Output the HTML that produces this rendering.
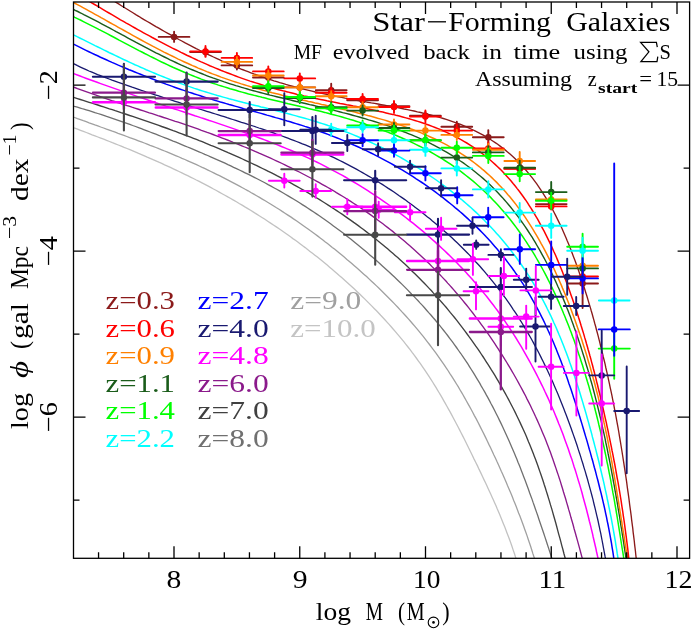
<!DOCTYPE html><html><head><meta charset="utf-8"><style>html,body{margin:0;padding:0;background:#fff}svg{display:block;will-change:transform;transform:translateZ(0)}text{font-family:"Liberation Serif",serif}</style></head><body>
<svg width="692" height="631" viewBox="0 0 692 631">
<rect width="692" height="631" fill="#fff"/>
<defs><clipPath id="c"><rect x="73.5" y="2.0" width="616.1" height="556.3"/></clipPath></defs>
<g clip-path="url(#c)" fill="none">
<path d="M60.3,122.5 L63.2,123.6 L66.1,124.7 L68.9,125.9 L71.8,127.0 L74.7,128.1 L77.6,129.2 L80.5,130.3 L83.4,131.4 L86.3,132.5 L89.2,133.6 L92.1,134.8 L95.0,135.9 L97.9,137.0 L100.8,138.1 L103.7,139.2 L106.6,140.4 L109.5,141.5 L112.4,142.7 L115.4,143.8 L118.3,145.0 L121.2,146.2 L124.1,147.4 L127.0,148.5 L129.9,149.7 L132.8,150.9 L135.7,152.1 L138.6,153.4 L141.5,154.6 L144.4,155.8 L147.2,157.1 L150.1,158.3 L153.0,159.6 L155.9,160.9 L158.8,162.2 L161.7,163.4 L164.6,164.8 L167.5,166.1 L170.4,167.4 L173.3,168.8 L176.1,170.1 L179.0,171.5 L181.9,172.9 L184.8,174.3 L187.7,175.7 L190.5,177.1 L193.4,178.5 L196.3,180.0 L199.2,181.4 L202.0,182.9 L204.9,184.4 L207.8,185.9 L210.6,187.4 L213.5,189.0 L216.4,190.5 L219.2,192.1 L222.1,193.7 L224.9,195.2 L227.8,196.9 L230.7,198.5 L233.5,200.1 L236.4,201.8 L239.2,203.5 L242.1,205.1 L244.9,206.9 L247.8,208.6 L250.6,210.3 L253.5,212.1 L256.3,213.9 L259.2,215.7 L262.0,217.5 L264.9,219.3 L267.7,221.2 L270.6,223.1 L273.4,225.0 L276.3,226.9 L279.1,228.8 L282.0,230.8 L284.8,232.8 L287.7,234.8 L290.5,236.8 L292.9,238.6 L295.4,240.3 L297.8,242.1 L300.3,243.9 L302.7,245.8 L305.2,247.6 L307.6,249.5 L310.0,251.4 L312.5,253.3 L314.9,255.2 L317.4,257.1 L319.8,259.1 L322.3,261.1 L324.7,263.1 L327.2,265.1 L329.6,267.2 L332.1,269.3 L334.6,271.4 L337.0,273.5 L339.5,275.7 L342.0,277.8 L344.4,280.0 L346.9,282.3 L349.4,284.5 L351.9,286.8 L354.4,289.1 L356.9,291.4 L359.4,293.8 L361.9,296.2 L364.4,298.6 L366.9,301.1 L369.4,303.6 L371.9,306.1 L374.4,308.7 L376.5,310.8 L378.6,313.0 L380.7,315.3 L382.8,317.5 L384.9,319.8 L387.0,322.1 L389.1,324.4 L391.2,326.8 L393.3,329.2 L395.4,331.6 L397.5,334.1 L399.6,336.6 L401.7,339.1 L403.8,341.7 L405.9,344.3 L408.0,347.0 L410.1,349.7 L412.1,352.4 L414.2,355.1 L416.3,358.0 L418.3,360.8 L420.4,363.7 L422.4,366.6 L424.5,369.6 L426.5,372.7 L428.5,375.7 L430.6,378.8 L432.6,382.0 L434.2,384.6 L435.8,387.2 L437.4,389.8 L439.0,392.5 L440.6,395.2 L442.2,397.9 L443.7,400.6 L445.3,403.4 L446.9,406.2 L448.5,409.1 L450.1,411.9 L451.7,414.9 L453.2,417.8 L454.8,420.8 L456.4,423.8 L458.0,426.8 L459.6,429.9 L461.2,433.0 L462.8,436.1 L464.4,439.3 L466.0,442.5 L467.6,445.7 L469.2,449.0 L470.8,452.3 L472.5,455.7 L474.1,459.1 L475.8,462.5 L477.5,465.9 L479.1,469.4 L480.8,472.9 L482.5,476.5 L484.2,480.1 L485.5,482.8 L486.8,485.6 L488.1,488.4 L489.4,491.2 L490.7,494.0 L492.0,496.9 L493.3,499.7 L494.6,502.7 L495.9,505.6 L497.1,508.6 L498.4,511.6 L499.7,514.6 L501.0,517.7 L502.2,520.7 L503.5,523.9 L504.8,527.0 L506.0,530.2 L507.2,533.4 L508.5,536.7 L509.7,540.0 L510.9,543.3 L512.1,546.7 L513.2,550.1 L514.4,553.5 L515.5,557.0 L516.7,560.5 L517.9,564.0 L519.1,567.5 L520.4,571.1 L521.6,574.7 L522.8,578.3 L523.3,579.6" stroke="#c2c2c2" stroke-width="1.3"/>
<path d="M60.3,112.2 L63.1,113.3 L66.0,114.3 L68.9,115.4 L71.8,116.4 L74.6,117.5 L77.5,118.6 L80.4,119.6 L83.3,120.7 L86.2,121.7 L89.1,122.8 L92.0,123.8 L94.9,124.9 L97.8,125.9 L100.7,127.0 L103.6,128.0 L106.5,129.1 L109.4,130.1 L112.3,131.2 L115.2,132.2 L118.1,133.3 L121.0,134.3 L123.9,135.4 L126.8,136.5 L129.7,137.6 L132.6,138.6 L135.5,139.7 L138.4,140.8 L141.4,141.9 L144.3,143.0 L147.2,144.1 L150.1,145.3 L153.0,146.4 L155.9,147.5 L158.8,148.7 L161.7,149.8 L164.6,151.0 L167.5,152.2 L170.4,153.4 L173.3,154.6 L176.2,155.8 L179.1,157.0 L182.0,158.3 L184.9,159.5 L187.8,160.8 L190.7,162.1 L193.6,163.4 L196.5,164.7 L199.3,166.0 L202.2,167.4 L205.1,168.7 L208.0,170.1 L210.9,171.5 L213.7,172.9 L216.6,174.3 L219.5,175.7 L222.3,177.1 L225.2,178.6 L228.1,180.1 L230.9,181.6 L233.8,183.1 L236.7,184.6 L239.5,186.1 L242.4,187.7 L245.2,189.3 L248.1,190.8 L250.9,192.5 L253.8,194.1 L256.6,195.7 L259.5,197.4 L262.3,199.1 L265.2,200.8 L268.0,202.5 L270.9,204.2 L273.7,206.0 L276.5,207.8 L279.4,209.5 L282.2,211.4 L285.0,213.2 L287.9,215.1 L290.7,216.9 L293.5,218.9 L296.4,220.8 L299.2,222.7 L302.0,224.7 L304.8,226.7 L307.7,228.7 L310.5,230.8 L312.9,232.5 L315.3,234.3 L317.8,236.1 L320.2,237.9 L322.6,239.8 L325.0,241.7 L327.5,243.5 L329.9,245.4 L332.3,247.4 L334.8,249.3 L337.2,251.3 L339.6,253.3 L342.1,255.3 L344.5,257.3 L346.9,259.4 L349.4,261.4 L351.8,263.5 L354.3,265.7 L356.7,267.8 L359.2,270.0 L361.6,272.2 L364.1,274.4 L366.6,276.6 L369.0,278.9 L371.5,281.2 L374.0,283.5 L376.5,285.9 L379.0,288.3 L381.5,290.7 L384.0,293.2 L386.5,295.7 L389.0,298.2 L391.5,300.8 L393.6,302.9 L395.7,305.1 L397.8,307.3 L399.9,309.6 L402.0,311.9 L404.2,314.2 L406.3,316.5 L408.4,318.9 L410.5,321.3 L412.6,323.7 L414.7,326.2 L416.8,328.7 L418.9,331.2 L421.1,333.8 L423.2,336.4 L425.3,339.1 L427.4,341.8 L429.5,344.5 L431.6,347.3 L433.7,350.1 L435.8,352.9 L437.9,355.8 L440.0,358.8 L442.1,361.8 L444.2,364.8 L446.2,367.9 L448.3,371.0 L449.9,373.6 L451.6,376.1 L453.2,378.7 L454.9,381.4 L456.5,384.0 L458.2,386.7 L459.8,389.5 L461.4,392.2 L463.1,395.0 L464.7,397.9 L466.3,400.7 L467.9,403.6 L469.6,406.6 L471.2,409.5 L472.8,412.5 L474.4,415.6 L476.1,418.6 L477.7,421.8 L479.3,424.9 L480.9,428.1 L482.5,431.3 L484.2,434.6 L485.8,437.9 L487.4,441.2 L489.0,444.6 L490.7,448.0 L492.3,451.5 L493.9,455.0 L495.6,458.5 L497.2,462.1 L498.9,465.7 L500.1,468.4 L501.3,471.2 L502.6,474.0 L503.8,476.8 L505.1,479.7 L506.3,482.6 L507.5,485.5 L508.8,488.4 L510.0,491.3 L511.3,494.3 L512.5,497.3 L513.7,500.4 L515.0,503.5 L516.2,506.6 L517.4,509.7 L518.6,512.9 L519.9,516.1 L521.1,519.3 L522.3,522.5 L523.5,525.8 L524.7,529.2 L525.9,532.5 L527.1,535.9 L528.2,539.3 L529.4,542.8 L530.6,546.3 L531.7,549.8 L532.8,553.4 L534.0,557.0 L535.2,560.6 L536.4,564.3 L537.6,568.0 L538.9,571.7 L540.1,575.4 L541.3,579.2" stroke="#a0a0a0" stroke-width="1.3"/>
<path d="M60.0,101.3 L62.9,102.3 L65.8,103.4 L68.6,104.4 L71.5,105.4 L74.4,106.4 L77.4,107.2 L80.3,108.1 L83.2,109.0 L86.2,109.8 L89.1,110.7 L92.0,111.6 L94.9,112.6 L97.8,113.5 L100.8,114.4 L103.7,115.4 L106.6,116.4 L109.5,117.3 L112.4,118.3 L115.3,119.3 L118.2,120.3 L121.1,121.3 L124.0,122.4 L126.9,123.4 L129.8,124.4 L132.7,125.5 L135.6,126.5 L138.5,127.6 L141.4,128.7 L144.3,129.8 L147.1,130.9 L150.0,132.0 L152.9,133.1 L155.8,134.2 L158.7,135.3 L161.6,136.5 L164.4,137.6 L167.3,138.7 L170.2,139.9 L173.1,141.1 L176.0,142.2 L178.9,143.4 L181.7,144.6 L184.6,145.8 L187.5,147.0 L190.4,148.2 L193.3,149.4 L196.2,150.6 L199.0,151.8 L201.9,153.0 L204.8,154.3 L207.7,155.5 L210.6,156.8 L213.5,158.1 L216.3,159.3 L219.2,160.6 L222.1,161.9 L225.0,163.2 L227.9,164.6 L230.8,165.9 L233.6,167.3 L236.5,168.6 L239.4,170.0 L242.3,171.4 L245.1,172.8 L248.0,174.2 L250.9,175.6 L253.8,177.1 L256.6,178.5 L259.5,180.0 L262.4,181.5 L265.3,183.0 L268.1,184.6 L271.0,186.1 L273.8,187.7 L276.7,189.3 L279.6,190.9 L282.4,192.5 L285.3,194.2 L288.1,195.9 L291.0,197.6 L293.8,199.3 L296.7,201.0 L299.5,202.8 L302.3,204.6 L305.2,206.4 L308.0,208.2 L310.8,210.1 L313.7,212.0 L316.5,213.9 L319.3,215.8 L322.1,217.8 L325.0,219.8 L327.8,221.8 L330.6,223.8 L333.4,225.9 L335.9,227.7 L338.3,229.5 L340.7,231.3 L343.1,233.1 L345.5,235.0 L348.0,236.9 L350.4,238.8 L352.8,240.7 L355.2,242.7 L357.7,244.7 L360.1,246.7 L362.5,248.7 L365.0,250.7 L367.4,252.8 L369.8,254.9 L372.3,257.0 L374.7,259.1 L377.2,261.3 L379.7,263.5 L382.1,265.7 L384.6,267.9 L387.1,270.2 L389.6,272.5 L392.0,274.8 L394.5,277.1 L397.0,279.5 L399.6,282.0 L402.1,284.4 L404.6,286.9 L407.1,289.4 L409.6,292.0 L411.7,294.2 L413.9,296.4 L416.0,298.6 L418.1,300.8 L420.2,303.1 L422.4,305.4 L424.5,307.8 L426.6,310.2 L428.7,312.6 L430.9,315.0 L433.0,317.5 L435.2,320.0 L437.3,322.6 L439.4,325.2 L441.6,327.8 L443.7,330.5 L445.8,333.2 L448.0,336.0 L450.1,338.8 L452.3,341.7 L454.4,344.6 L456.5,347.5 L458.6,350.5 L460.8,353.5 L462.9,356.6 L464.6,359.1 L466.3,361.7 L468.0,364.2 L469.6,366.8 L471.3,369.5 L473.0,372.2 L474.7,374.9 L476.3,377.6 L478.0,380.4 L479.7,383.2 L481.3,386.1 L483.0,389.0 L484.7,391.9 L486.3,394.9 L488.0,397.9 L489.6,400.9 L491.2,404.0 L492.9,407.1 L494.5,410.3 L496.1,413.5 L497.8,416.8 L499.4,420.1 L501.0,423.4 L502.6,426.8 L504.2,430.2 L505.8,433.7 L507.4,437.2 L509.0,440.8 L510.6,444.4 L512.1,448.0 L513.3,450.8 L514.5,453.6 L515.7,456.5 L516.9,459.3 L518.0,462.2 L519.2,465.1 L520.4,468.1 L521.5,471.0 L522.7,474.0 L523.8,477.1 L525.0,480.1 L526.2,483.2 L527.3,486.3 L528.5,489.5 L529.6,492.7 L530.8,495.9 L532.0,499.1 L533.1,502.4 L534.3,505.7 L535.4,509.0 L536.6,512.4 L537.8,515.8 L538.9,519.2 L540.1,522.7 L541.3,526.2 L542.5,529.7 L543.7,533.3 L544.9,536.9 L546.1,540.5 L547.3,544.2 L548.5,547.9 L549.7,551.6 L550.9,555.4 L552.2,559.2 L553.4,563.0 L554.6,566.9 L555.9,570.9 L557.1,574.8 L558.3,578.8" stroke="#707070" stroke-width="1.3"/>
<path d="M60.1,92.8 L63.0,93.8 L65.9,94.7 L68.8,95.7 L71.6,96.7 L74.5,97.7 L77.4,98.6 L80.3,99.5 L83.2,100.4 L86.1,101.3 L89.1,102.3 L92.0,103.2 L94.9,104.1 L97.8,105.0 L100.7,106.0 L103.6,106.9 L106.5,107.8 L109.4,108.8 L112.3,109.7 L115.2,110.7 L118.1,111.6 L121.0,112.6 L123.9,113.5 L126.8,114.5 L129.7,115.5 L132.6,116.4 L135.5,117.4 L138.4,118.4 L141.3,119.4 L144.2,120.4 L147.2,121.4 L150.1,122.4 L153.0,123.4 L155.9,124.4 L158.8,125.4 L161.7,126.5 L164.6,127.5 L167.5,128.5 L170.4,129.6 L173.2,130.7 L176.1,131.7 L179.0,132.8 L181.9,133.9 L184.8,135.0 L187.7,136.1 L190.6,137.2 L193.5,138.3 L196.4,139.4 L199.3,140.6 L202.2,141.7 L205.0,142.9 L207.9,144.1 L210.8,145.3 L213.7,146.4 L216.6,147.6 L219.5,148.9 L222.3,150.1 L225.2,151.3 L228.1,152.6 L231.0,153.8 L233.8,155.1 L236.7,156.4 L239.6,157.7 L242.5,159.0 L245.3,160.3 L248.2,161.6 L251.1,163.0 L253.9,164.3 L256.8,165.7 L259.7,167.1 L262.5,168.5 L265.4,169.9 L268.3,171.3 L271.1,172.7 L274.0,174.2 L276.8,175.7 L279.7,177.1 L282.6,178.6 L285.4,180.2 L288.3,181.7 L291.1,183.2 L294.0,184.8 L296.8,186.4 L299.7,188.0 L302.5,189.6 L305.4,191.2 L308.2,192.9 L311.1,194.6 L313.9,196.3 L316.8,198.0 L319.6,199.7 L322.5,201.5 L325.3,203.3 L328.2,205.1 L331.0,206.9 L333.8,208.7 L336.7,210.6 L339.5,212.5 L342.4,214.4 L345.2,216.4 L348.0,218.4 L350.9,220.4 L353.7,222.4 L356.2,224.1 L358.6,225.9 L361.0,227.7 L363.5,229.5 L365.9,231.4 L368.3,233.2 L370.8,235.1 L373.2,237.1 L375.7,239.0 L378.1,241.0 L380.5,242.9 L383.0,245.0 L385.4,247.0 L387.9,249.1 L390.3,251.2 L392.8,253.3 L395.2,255.4 L397.7,257.6 L400.1,259.8 L402.6,262.1 L405.1,264.3 L407.5,266.6 L410.0,269.0 L412.4,271.4 L414.9,273.8 L417.4,276.2 L419.9,278.7 L422.3,281.2 L424.8,283.8 L427.3,286.4 L429.4,288.6 L431.5,290.8 L433.5,293.1 L435.6,295.4 L437.7,297.7 L439.8,300.1 L441.9,302.5 L444.0,304.9 L446.1,307.3 L448.2,309.8 L450.2,312.4 L452.3,314.9 L454.5,317.5 L456.6,320.2 L458.7,322.9 L460.8,325.6 L462.9,328.4 L465.0,331.2 L467.1,334.0 L469.2,336.9 L471.4,339.8 L473.5,342.8 L475.6,345.9 L477.8,348.9 L479.5,351.4 L481.2,354.0 L482.9,356.5 L484.6,359.1 L486.3,361.8 L488.0,364.4 L489.7,367.1 L491.4,369.9 L493.2,372.6 L494.9,375.4 L496.6,378.3 L498.3,381.2 L500.0,384.1 L501.7,387.1 L503.4,390.1 L505.1,393.1 L506.8,396.2 L508.5,399.4 L510.1,402.5 L511.8,405.8 L513.5,409.0 L515.2,412.4 L516.8,415.7 L518.5,419.2 L520.1,422.6 L521.7,426.1 L523.4,429.7 L525.0,433.3 L526.2,436.1 L527.4,438.9 L528.5,441.7 L529.7,444.5 L530.9,447.4 L532.0,450.3 L533.2,453.3 L534.3,456.2 L535.5,459.2 L536.6,462.3 L537.7,465.3 L538.8,468.4 L539.9,471.6 L541.0,474.8 L542.1,478.0 L543.2,481.2 L544.2,484.5 L545.3,487.8 L546.3,491.1 L547.4,494.5 L548.4,497.9 L549.5,501.4 L550.5,504.9 L551.6,508.4 L552.6,511.9 L553.6,515.5 L554.7,519.2 L555.7,522.8 L556.7,526.5 L557.7,530.3 L558.7,534.1 L559.8,537.9 L560.8,541.7 L561.8,545.6 L562.9,549.5 L563.9,553.5 L565.0,557.5 L566.1,561.5 L567.4,565.6 L568.6,569.6 L569.8,573.8 L571.0,577.9 L571.5,579.3" stroke="#404040" stroke-width="1.35"/>
<path d="M60.3,82.9 L63.2,83.8 L66.0,84.7 L68.9,85.6 L71.8,86.5 L74.7,87.5 L77.5,88.6 L80.3,89.6 L83.2,90.7 L86.0,91.7 L88.9,92.7 L91.7,93.7 L94.6,94.7 L97.4,95.7 L100.3,96.7 L103.1,97.7 L106.0,98.6 L108.9,99.6 L111.7,100.6 L114.6,101.5 L117.5,102.5 L120.4,103.4 L123.3,104.4 L126.1,105.3 L129.0,106.2 L131.9,107.2 L134.8,108.1 L137.7,109.0 L140.6,110.0 L143.5,110.9 L146.4,111.8 L149.3,112.8 L152.2,113.7 L155.0,114.6 L157.9,115.6 L160.8,116.5 L163.7,117.5 L166.6,118.4 L169.5,119.4 L172.4,120.3 L175.3,121.3 L178.2,122.2 L181.1,123.2 L184.0,124.2 L186.9,125.2 L189.8,126.2 L192.7,127.2 L195.6,128.2 L198.5,129.2 L201.4,130.3 L204.3,131.3 L207.2,132.4 L210.1,133.4 L213.0,134.5 L215.9,135.6 L218.7,136.7 L221.6,137.8 L224.5,138.9 L227.4,140.0 L230.3,141.1 L233.2,142.3 L236.1,143.4 L238.9,144.6 L241.8,145.8 L244.7,147.0 L247.6,148.2 L250.5,149.4 L253.3,150.6 L256.2,151.8 L259.1,153.1 L262.0,154.3 L264.8,155.6 L267.7,156.9 L270.6,158.2 L273.4,159.5 L276.3,160.8 L279.2,162.2 L282.1,163.5 L284.9,164.9 L287.8,166.3 L290.7,167.7 L293.5,169.1 L296.4,170.6 L299.3,172.0 L302.1,173.5 L305.0,175.0 L307.8,176.5 L310.7,178.0 L313.6,179.5 L316.4,181.1 L319.3,182.7 L322.1,184.3 L325.0,185.9 L327.9,187.5 L330.7,189.2 L333.6,190.8 L336.4,192.6 L339.3,194.3 L342.1,196.0 L345.0,197.8 L347.8,199.6 L350.7,201.4 L353.5,203.2 L356.4,205.1 L359.3,207.0 L362.1,208.9 L365.0,210.9 L367.8,212.9 L370.7,214.9 L373.1,216.6 L375.6,218.4 L378.0,220.2 L380.4,222.0 L382.9,223.8 L385.3,225.7 L387.8,227.6 L390.2,229.5 L392.7,231.4 L395.1,233.4 L397.6,235.4 L400.0,237.4 L402.5,239.5 L404.9,241.6 L407.4,243.7 L409.8,245.8 L412.3,248.0 L414.8,250.2 L417.2,252.4 L419.7,254.7 L422.1,257.0 L424.6,259.3 L427.1,261.7 L429.6,264.1 L432.0,266.6 L434.5,269.1 L437.0,271.6 L439.5,274.2 L441.5,276.4 L443.6,278.6 L445.7,280.8 L447.7,283.1 L449.8,285.4 L451.9,287.7 L454.0,290.1 L456.0,292.5 L458.1,294.9 L460.2,297.4 L462.3,299.9 L464.4,302.5 L466.5,305.0 L468.6,307.7 L470.7,310.3 L472.8,313.0 L474.9,315.8 L477.0,318.6 L479.1,321.4 L481.2,324.3 L483.3,327.2 L485.4,330.1 L487.6,333.1 L489.7,336.2 L491.4,338.7 L493.1,341.2 L494.8,343.7 L496.5,346.3 L498.2,348.9 L499.9,351.6 L501.6,354.2 L503.3,356.9 L505.0,359.7 L506.8,362.5 L508.5,365.3 L510.2,368.2 L511.9,371.1 L513.6,374.0 L515.3,377.0 L517.0,380.0 L518.7,383.1 L520.4,386.2 L522.1,389.4 L523.8,392.6 L525.5,395.8 L527.1,399.1 L528.8,402.4 L530.5,405.8 L532.1,409.2 L533.8,412.7 L535.4,416.3 L537.1,419.9 L538.7,423.5 L539.9,426.3 L541.1,429.1 L542.3,431.9 L543.5,434.8 L544.7,437.6 L545.9,440.6 L547.0,443.5 L548.2,446.5 L549.3,449.5 L550.5,452.6 L551.6,455.7 L552.7,458.8 L553.8,462.0 L554.9,465.2 L556.0,468.4 L557.1,471.7 L558.2,474.9 L559.3,478.3 L560.4,481.6 L561.4,485.0 L562.5,488.5 L563.5,492.0 L564.6,495.5 L565.7,499.0 L566.7,502.6 L567.8,506.2 L568.8,509.9 L569.9,513.5 L570.9,517.3 L572.0,521.0 L573.1,524.8 L574.1,528.7 L575.2,532.5 L576.3,536.5 L577.4,540.4 L578.5,544.4 L579.6,548.4 L580.7,552.5 L581.8,556.6 L583.0,560.7 L584.2,564.9 L585.5,569.1 L586.7,573.3 L587.9,577.6 L588.3,579.1" stroke="#8b1a8b" stroke-width="1.35"/>
<path d="M60.0,69.3 L62.9,70.2 L65.8,71.1 L68.7,72.0 L71.6,72.9 L74.4,73.9 L77.3,75.0 L80.1,76.0 L82.9,77.1 L85.8,78.2 L88.6,79.2 L91.4,80.2 L94.3,81.3 L97.1,82.3 L100.0,83.4 L102.8,84.4 L105.7,85.4 L108.5,86.4 L111.4,87.4 L114.2,88.4 L117.1,89.4 L119.9,90.4 L122.8,91.4 L125.7,92.4 L128.5,93.4 L131.4,94.4 L134.3,95.4 L137.1,96.4 L140.0,97.4 L142.9,98.3 L145.8,99.3 L148.6,100.3 L151.5,101.2 L154.4,102.2 L157.3,103.2 L160.1,104.1 L163.0,105.1 L165.9,106.1 L168.8,107.0 L171.7,108.0 L174.6,109.0 L177.5,109.9 L180.4,110.9 L183.2,111.8 L186.1,112.8 L189.0,113.7 L191.9,114.7 L194.8,115.7 L197.7,116.6 L200.6,117.6 L203.5,118.5 L206.4,119.5 L209.3,120.5 L212.2,121.4 L215.1,122.4 L218.0,123.4 L220.9,124.4 L223.9,125.4 L226.8,126.4 L229.7,127.4 L232.6,128.4 L235.5,129.4 L238.4,130.4 L241.3,131.4 L244.2,132.4 L247.1,133.5 L250.0,134.5 L252.9,135.6 L255.8,136.6 L258.8,137.7 L261.7,138.8 L264.6,139.9 L267.5,141.0 L270.4,142.1 L273.3,143.2 L276.2,144.4 L279.1,145.5 L282.0,146.7 L284.9,147.9 L287.8,149.1 L290.7,150.3 L293.6,151.5 L296.5,152.8 L299.4,154.0 L302.2,155.3 L305.1,156.6 L308.0,157.9 L310.9,159.3 L313.8,160.6 L316.6,162.0 L319.5,163.4 L322.4,164.8 L325.2,166.3 L328.1,167.8 L331.0,169.3 L333.8,170.8 L336.7,172.3 L339.5,173.9 L342.4,175.4 L345.2,177.0 L348.0,178.7 L350.9,180.3 L353.7,182.0 L356.5,183.7 L359.4,185.4 L362.2,187.2 L365.0,188.9 L367.8,190.7 L370.7,192.6 L373.5,194.4 L376.3,196.3 L379.1,198.2 L381.9,200.1 L384.8,202.1 L387.6,204.0 L390.4,206.0 L393.2,208.1 L396.0,210.2 L398.4,212.0 L400.9,213.8 L403.3,215.6 L405.7,217.5 L408.1,219.4 L410.5,221.3 L413.0,223.2 L415.4,225.2 L417.8,227.2 L420.3,229.2 L422.7,231.2 L425.2,233.3 L427.6,235.4 L430.1,237.5 L432.5,239.7 L435.0,241.9 L437.4,244.1 L439.9,246.4 L442.4,248.7 L444.9,251.0 L447.3,253.4 L449.8,255.8 L452.3,258.3 L454.8,260.8 L457.3,263.3 L459.4,265.5 L461.5,267.6 L463.6,269.9 L465.7,272.1 L467.8,274.4 L469.9,276.7 L472.0,279.1 L474.1,281.5 L476.3,283.9 L478.4,286.4 L480.5,288.9 L482.6,291.5 L484.7,294.1 L486.9,296.8 L489.0,299.5 L491.1,302.2 L493.3,305.0 L495.4,307.9 L497.6,310.8 L499.7,313.7 L501.8,316.7 L504.0,319.8 L505.7,322.3 L507.4,324.8 L509.1,327.4 L510.8,330.0 L512.6,332.6 L514.3,335.3 L516.0,338.0 L517.7,340.8 L519.4,343.6 L521.1,346.4 L522.8,349.3 L524.5,352.3 L526.2,355.3 L527.9,358.3 L529.6,361.4 L531.3,364.5 L533.0,367.6 L534.7,370.9 L536.4,374.1 L538.1,377.5 L539.8,380.8 L541.5,384.3 L543.2,387.7 L544.8,391.3 L546.5,394.9 L547.8,397.6 L549.0,400.3 L550.2,403.1 L551.5,406.0 L552.7,408.8 L554.0,411.7 L555.2,414.7 L556.4,417.6 L557.6,420.6 L558.8,423.7 L560.1,426.8 L561.3,429.9 L562.5,433.0 L563.7,436.2 L564.8,439.4 L566.0,442.7 L567.2,446.0 L568.4,449.3 L569.5,452.7 L570.7,456.2 L571.9,459.6 L573.0,463.1 L574.1,466.7 L575.3,470.3 L576.4,473.9 L577.5,477.6 L578.6,481.3 L579.8,485.1 L580.9,488.9 L582.0,492.8 L583.0,496.7 L584.1,500.7 L585.2,504.7 L586.3,508.7 L587.3,512.8 L588.4,517.0 L589.4,521.2 L590.5,525.4 L591.5,529.7 L592.6,534.1 L593.2,537.0 L593.9,540.0 L594.6,543.0 L595.3,546.0 L596.0,549.0 L596.6,552.0 L597.3,555.1 L598.0,558.2 L598.8,561.3 L599.6,564.4 L600.4,567.6 L601.3,570.7 L602.1,573.9 L602.9,577.1 L603.3,578.7" stroke="#ff00ff" stroke-width="1.5"/>
<path d="M60.2,55.9 L63.1,57.7 L65.9,59.4 L68.8,61.1 L71.7,62.7 L74.6,64.2 L77.5,65.7 L80.4,67.1 L83.2,68.4 L86.1,69.7 L89.0,71.0 L91.9,72.2 L94.8,73.4 L97.6,74.6 L100.5,75.7 L103.4,76.8 L106.3,77.9 L109.1,79.0 L112.0,80.1 L114.9,81.1 L117.7,82.2 L120.6,83.2 L123.5,84.2 L126.3,85.2 L129.2,86.2 L132.1,87.2 L135.0,88.1 L137.8,89.1 L140.7,90.1 L143.6,91.0 L146.4,92.0 L149.3,92.9 L152.2,93.9 L155.0,94.8 L157.9,95.7 L160.8,96.7 L163.6,97.6 L166.5,98.5 L169.4,99.5 L172.3,100.4 L175.1,101.3 L178.0,102.2 L180.9,103.2 L183.8,104.1 L186.6,105.0 L189.5,105.9 L192.4,106.8 L195.3,107.7 L198.2,108.6 L201.0,109.5 L203.9,110.4 L206.8,111.3 L209.7,112.2 L212.6,113.1 L215.5,114.0 L218.4,114.9 L221.3,115.8 L224.2,116.7 L227.1,117.7 L230.0,118.6 L232.8,119.5 L235.7,120.4 L238.6,121.3 L241.5,122.3 L244.4,123.2 L247.3,124.1 L250.2,125.1 L253.1,126.0 L256.0,127.0 L258.9,128.0 L261.8,128.9 L264.7,129.9 L267.6,130.9 L270.5,131.9 L273.4,132.9 L276.3,134.0 L279.2,135.0 L282.1,136.0 L285.0,137.1 L287.9,138.2 L290.8,139.3 L293.7,140.4 L296.6,141.5 L299.5,142.6 L302.4,143.8 L305.3,144.9 L308.2,146.1 L311.0,147.3 L313.9,148.6 L316.8,149.8 L319.7,151.1 L322.5,152.3 L325.4,153.6 L328.3,155.0 L331.1,156.3 L334.0,157.7 L336.9,159.1 L339.7,160.5 L342.6,161.9 L345.4,163.4 L348.3,164.9 L351.1,166.4 L354.0,167.9 L356.8,169.4 L359.6,171.0 L362.5,172.6 L365.3,174.2 L368.1,175.9 L371.0,177.5 L373.8,179.2 L376.6,180.9 L379.5,182.7 L382.3,184.4 L385.1,186.2 L387.9,188.1 L390.7,189.9 L393.6,191.8 L396.4,193.7 L399.2,195.7 L402.0,197.6 L404.9,199.6 L407.7,201.7 L410.5,203.7 L412.9,205.5 L415.4,207.4 L417.8,209.2 L420.2,211.1 L422.6,213.0 L425.1,214.9 L427.5,216.9 L430.0,218.8 L432.4,220.9 L434.9,222.9 L437.3,225.0 L439.8,227.1 L442.3,229.2 L444.7,231.4 L447.2,233.6 L449.7,235.8 L452.2,238.1 L454.7,240.5 L457.2,242.8 L459.7,245.2 L462.2,247.7 L464.7,250.2 L467.2,252.8 L469.3,254.9 L471.4,257.1 L473.5,259.4 L475.6,261.7 L477.8,264.0 L479.9,266.3 L482.0,268.7 L484.1,271.2 L486.2,273.7 L488.4,276.2 L490.5,278.8 L492.6,281.4 L494.8,284.1 L496.9,286.8 L499.0,289.6 L501.2,292.4 L503.3,295.3 L505.5,298.2 L507.6,301.2 L509.7,304.2 L511.4,306.7 L513.1,309.3 L514.9,311.8 L516.6,314.4 L518.3,317.1 L520.0,319.8 L521.7,322.5 L523.4,325.3 L525.0,328.1 L526.7,330.9 L528.4,333.8 L530.1,336.8 L531.8,339.8 L533.5,342.9 L535.1,346.0 L536.8,349.1 L538.5,352.3 L540.2,355.6 L541.8,358.9 L543.5,362.2 L545.1,365.6 L546.8,369.1 L548.4,372.6 L550.1,376.2 L551.7,379.8 L553.0,382.6 L554.2,385.4 L555.4,388.2 L556.6,391.1 L557.9,394.0 L559.1,396.9 L560.3,399.9 L561.5,402.9 L562.7,406.0 L563.9,409.0 L565.1,412.2 L566.3,415.3 L567.5,418.5 L568.7,421.8 L569.9,425.0 L571.1,428.3 L572.3,431.7 L573.5,435.1 L574.7,438.5 L575.9,442.0 L577.1,445.5 L578.2,449.1 L579.4,452.7 L580.6,456.4 L581.7,460.1 L582.9,463.8 L584.0,467.6 L585.2,471.4 L586.3,475.3 L587.5,479.3 L588.6,483.3 L589.7,487.3 L590.8,491.4 L591.9,495.5 L593.0,499.7 L594.0,504.0 L595.1,508.3 L596.1,512.6 L596.8,515.6 L597.5,518.5 L598.2,521.5 L598.8,524.5 L599.5,527.6 L600.1,530.6 L600.8,533.7 L601.4,536.9 L602.0,540.0 L602.6,543.2 L603.2,546.4 L603.8,549.6 L604.4,552.9 L605.0,556.2 L605.7,559.4 L606.5,562.7 L607.3,566.0 L608.1,569.4 L609.0,572.7 L609.8,576.1 L610.6,579.5" stroke="#191970" stroke-width="1.3"/>
<path d="M60.1,35.2 L62.6,36.9 L65.5,38.8 L68.3,40.7 L71.2,42.5 L74.1,44.3 L77.1,45.8 L80.1,47.3 L83.0,48.8 L86.0,50.3 L88.9,51.7 L91.8,53.1 L94.7,54.5 L97.6,55.8 L100.5,57.2 L103.4,58.5 L106.3,59.8 L109.1,61.1 L112.0,62.4 L114.9,63.6 L117.7,64.9 L120.6,66.1 L123.4,67.3 L126.3,68.5 L129.1,69.7 L131.9,70.8 L134.8,72.0 L137.6,73.1 L140.5,74.3 L143.3,75.4 L146.1,76.5 L149.0,77.6 L151.8,78.7 L154.7,79.8 L157.5,80.9 L160.3,82.0 L163.2,83.0 L166.0,84.1 L168.9,85.1 L171.7,86.1 L174.6,87.2 L177.4,88.2 L180.3,89.2 L183.1,90.1 L186.0,91.1 L188.8,92.1 L191.7,93.0 L194.5,94.0 L197.4,94.9 L200.3,95.8 L203.1,96.7 L206.0,97.6 L208.9,98.5 L211.8,99.4 L214.7,100.3 L217.6,101.1 L220.4,102.0 L223.3,102.8 L226.2,103.6 L229.1,104.5 L232.0,105.3 L234.9,106.1 L237.8,106.9 L240.7,107.7 L243.6,108.6 L246.5,109.4 L249.4,110.2 L252.4,111.0 L255.3,111.8 L258.2,112.6 L261.1,113.4 L264.0,114.2 L266.9,115.1 L269.8,115.9 L272.7,116.7 L275.6,117.6 L278.6,118.4 L281.5,119.2 L284.4,120.1 L287.3,121.0 L290.2,121.8 L293.1,122.7 L296.0,123.6 L298.9,124.5 L301.9,125.4 L304.8,126.4 L307.7,127.3 L310.6,128.3 L313.5,129.3 L316.4,130.3 L319.3,131.3 L322.2,132.3 L325.1,133.3 L328.0,134.4 L330.8,135.5 L333.7,136.6 L336.6,137.7 L339.5,138.9 L342.4,140.1 L345.2,141.2 L348.1,142.5 L351.0,143.7 L353.8,145.0 L356.7,146.2 L359.5,147.5 L362.4,148.9 L365.3,150.2 L368.1,151.6 L371.0,153.0 L373.8,154.4 L376.6,155.8 L379.5,157.3 L382.3,158.8 L385.1,160.3 L388.0,161.8 L390.8,163.4 L393.6,165.0 L396.5,166.6 L399.3,168.3 L402.1,169.9 L404.9,171.6 L407.8,173.4 L410.6,175.1 L413.4,176.9 L416.2,178.8 L419.0,180.6 L421.9,182.5 L424.7,184.4 L427.5,186.4 L430.3,188.4 L433.2,190.4 L435.6,192.2 L438.0,194.0 L440.5,195.9 L442.9,197.7 L445.3,199.6 L447.8,201.6 L450.2,203.5 L452.7,205.5 L455.1,207.6 L457.6,209.6 L460.1,211.8 L462.6,213.9 L465.0,216.1 L467.5,218.4 L470.0,220.7 L472.5,223.0 L475.0,225.4 L477.5,227.9 L480.0,230.4 L482.1,232.5 L484.3,234.7 L486.4,237.0 L488.5,239.2 L490.6,241.6 L492.7,243.9 L494.8,246.4 L496.9,248.8 L499.1,251.4 L501.2,253.9 L503.3,256.6 L505.5,259.3 L507.6,262.1 L509.7,264.9 L511.9,267.8 L514.0,270.7 L516.1,273.8 L517.9,276.2 L519.6,278.8 L521.3,281.3 L523.0,283.9 L524.7,286.6 L526.4,289.3 L528.1,292.1 L529.7,294.9 L531.4,297.8 L533.1,300.8 L534.8,303.8 L536.5,306.8 L538.1,309.9 L539.8,313.1 L541.4,316.4 L543.1,319.7 L544.7,323.0 L546.3,326.5 L547.9,330.0 L549.6,333.6 L551.2,337.2 L552.4,340.0 L553.6,342.8 L554.8,345.7 L556.0,348.6 L557.1,351.5 L558.3,354.5 L559.5,357.5 L560.7,360.6 L561.9,363.7 L563.1,366.9 L564.2,370.1 L565.4,373.3 L566.6,376.6 L567.8,380.0 L568.9,383.4 L570.1,386.8 L571.3,390.3 L572.5,393.9 L573.6,397.5 L574.8,401.1 L576.0,404.8 L577.2,408.6 L578.4,412.4 L579.6,416.2 L580.8,420.2 L582.0,424.1 L583.2,428.2 L584.4,432.2 L585.6,436.4 L586.9,440.6 L588.1,444.9 L589.3,449.2 L590.2,452.1 L591.0,455.1 L591.8,458.0 L592.7,461.0 L593.5,464.1 L594.3,467.2 L595.2,470.3 L596.0,473.4 L596.8,476.6 L597.7,479.7 L598.5,483.0 L599.3,486.2 L600.1,489.5 L601.0,492.9 L601.8,496.2 L602.6,499.6 L603.4,503.1 L604.2,506.5 L605.0,510.1 L605.7,513.6 L606.5,517.2 L607.2,520.8 L608.0,524.5 L608.7,528.2 L609.4,531.9 L610.1,535.7 L610.8,539.5 L611.5,543.4 L612.1,547.3 L612.8,551.3 L613.4,555.3 L613.9,559.3 L614.8,563.3 L615.6,567.4 L616.4,571.5 L617.2,575.7 L618.1,579.9" stroke="#0000ff" stroke-width="1.5"/>
<path d="M60.1,25.9 L62.5,27.6 L65.4,29.5 L68.3,31.5 L71.2,33.3 L74.1,35.1 L77.1,36.7 L80.2,38.2 L83.2,39.7 L86.1,41.1 L89.1,42.6 L92.1,44.1 L95.0,45.6 L97.9,47.0 L100.8,48.4 L103.7,49.9 L106.6,51.3 L109.4,52.7 L112.3,54.0 L115.1,55.4 L118.0,56.8 L120.8,58.1 L123.6,59.5 L126.5,60.8 L129.3,62.1 L132.1,63.4 L134.9,64.7 L137.8,65.9 L140.6,67.2 L143.4,68.4 L146.2,69.7 L149.0,70.9 L151.9,72.1 L154.7,73.3 L157.5,74.5 L160.3,75.6 L163.2,76.8 L166.0,77.9 L168.8,79.0 L171.7,80.1 L174.5,81.2 L177.3,82.3 L180.2,83.3 L183.0,84.4 L185.9,85.4 L188.7,86.4 L191.6,87.4 L194.4,88.4 L197.3,89.3 L200.1,90.2 L203.0,91.1 L205.9,92.0 L208.8,92.9 L211.7,93.8 L214.5,94.6 L217.4,95.5 L220.3,96.3 L223.2,97.1 L226.1,97.9 L229.0,98.7 L231.9,99.4 L234.8,100.2 L237.7,101.0 L240.6,101.7 L243.5,102.5 L246.4,103.2 L249.4,103.9 L252.3,104.7 L255.2,105.4 L258.1,106.1 L261.0,106.9 L263.9,107.6 L266.9,108.3 L269.8,109.1 L272.7,109.8 L275.6,110.5 L278.6,111.3 L281.5,112.0 L284.4,112.8 L287.3,113.5 L290.2,114.3 L293.2,115.1 L296.1,115.9 L299.0,116.7 L301.9,117.5 L304.8,118.3 L307.8,119.1 L310.7,120.0 L313.6,120.9 L316.5,121.7 L319.4,122.7 L322.3,123.6 L325.2,124.5 L328.1,125.5 L331.0,126.4 L333.9,127.4 L336.8,128.5 L339.7,129.5 L342.6,130.6 L345.5,131.7 L348.3,132.8 L351.2,133.9 L354.1,135.1 L356.9,136.3 L359.8,137.5 L362.7,138.7 L365.5,140.0 L368.4,141.2 L371.2,142.5 L374.1,143.9 L376.9,145.2 L379.8,146.6 L382.6,148.0 L385.4,149.4 L388.3,150.9 L391.1,152.3 L393.9,153.8 L396.8,155.4 L399.6,156.9 L402.4,158.5 L405.2,160.1 L408.0,161.8 L410.8,163.4 L413.7,165.2 L416.5,166.9 L419.3,168.7 L422.1,170.4 L424.9,172.3 L427.7,174.1 L430.5,176.1 L433.3,178.0 L436.2,180.0 L439.0,182.0 L441.8,184.0 L444.2,185.8 L446.6,187.6 L449.1,189.5 L451.5,191.4 L453.9,193.3 L456.4,195.3 L458.8,197.3 L461.3,199.3 L463.7,201.4 L466.2,203.5 L468.6,205.6 L471.1,207.8 L473.6,210.1 L476.1,212.4 L478.6,214.7 L481.1,217.2 L483.6,219.6 L486.1,222.2 L488.2,224.3 L490.3,226.5 L492.4,228.8 L494.5,231.1 L496.6,233.4 L498.8,235.8 L500.9,238.2 L503.0,240.7 L505.1,243.3 L507.3,245.9 L509.4,248.6 L511.6,251.4 L513.7,254.2 L515.9,257.0 L518.0,260.0 L520.2,263.0 L521.9,265.5 L523.6,268.0 L525.3,270.5 L527.0,273.2 L528.8,275.8 L530.5,278.5 L532.2,281.3 L533.9,284.1 L535.6,287.0 L537.3,290.0 L539.0,293.0 L540.7,296.1 L542.4,299.2 L544.1,302.4 L545.8,305.6 L547.4,309.0 L549.1,312.4 L550.8,315.8 L552.4,319.4 L554.0,323.0 L555.3,325.7 L556.5,328.5 L557.7,331.4 L558.9,334.3 L560.2,337.2 L561.4,340.2 L562.6,343.2 L563.8,346.2 L565.0,349.4 L566.2,352.5 L567.4,355.7 L568.6,359.0 L569.7,362.3 L570.9,365.6 L572.1,369.0 L573.3,372.5 L574.5,376.0 L575.6,379.5 L576.8,383.2 L578.0,386.8 L579.2,390.5 L580.3,394.3 L581.5,398.2 L582.7,402.1 L583.8,406.0 L585.0,410.0 L586.2,414.1 L587.3,418.2 L588.5,422.4 L589.7,426.7 L590.9,431.0 L591.7,433.9 L592.4,436.9 L593.2,439.8 L594.0,442.8 L594.8,445.9 L595.6,448.9 L596.4,452.0 L597.2,455.2 L598.0,458.3 L598.8,461.5 L599.6,464.8 L600.3,468.0 L601.1,471.3 L601.9,474.7 L602.7,478.0 L603.5,481.4 L604.3,484.9 L605.0,488.3 L605.8,491.8 L606.6,495.4 L607.3,499.0 L608.1,502.6 L608.8,506.3 L609.6,510.0 L610.3,513.7 L611.1,517.5 L611.8,521.3 L612.5,525.2 L613.2,529.1 L613.9,533.0 L614.6,537.0 L615.3,541.0 L615.9,545.1 L616.6,549.2 L617.2,553.4 L617.9,557.6 L618.7,561.8 L619.5,566.1 L620.3,570.4 L621.1,574.7 L622.0,579.1" stroke="#00ffff" stroke-width="1.5"/>
<path d="M60.3,8.6 L63.2,10.4 L66.1,12.2 L69.0,14.0 L71.8,15.8 L74.8,17.4 L77.9,18.9 L80.9,20.3 L83.9,21.8 L86.9,23.3 L89.9,24.8 L92.9,26.3 L95.9,27.8 L98.8,29.4 L101.7,30.9 L104.7,32.4 L107.6,33.9 L110.5,35.5 L113.4,37.0 L116.2,38.5 L119.1,40.1 L122.0,41.6 L124.8,43.1 L127.7,44.6 L130.5,46.1 L133.4,47.6 L136.2,49.1 L139.0,50.6 L141.9,52.0 L144.7,53.5 L147.5,54.9 L150.3,56.4 L153.2,57.8 L156.0,59.2 L158.8,60.6 L161.6,62.0 L164.4,63.3 L167.3,64.6 L170.1,66.0 L172.9,67.3 L175.7,68.5 L178.6,69.8 L181.4,71.0 L184.3,72.2 L187.1,73.4 L189.9,74.6 L192.8,75.8 L195.6,76.9 L198.5,78.0 L201.3,79.1 L204.2,80.1 L207.1,81.2 L209.9,82.2 L212.8,83.2 L215.7,84.1 L218.5,85.1 L221.4,86.0 L224.3,86.9 L227.2,87.8 L230.1,88.7 L233.0,89.5 L235.8,90.3 L238.7,91.2 L242.0,92.1 L245.3,93.0 L248.6,93.9 L251.9,94.7 L255.2,95.6 L258.6,96.4 L261.9,97.3 L265.2,98.1 L268.5,98.9 L271.8,99.7 L275.1,100.5 L278.4,101.3 L281.7,102.1 L285.0,102.9 L288.3,103.7 L291.6,104.4 L294.9,105.2 L298.3,106.0 L301.6,106.8 L304.9,107.6 L308.2,108.4 L311.5,109.2 L314.8,110.0 L318.1,110.8 L321.4,111.6 L324.7,112.4 L328.0,113.3 L331.3,114.2 L334.6,115.0 L337.9,115.9 L341.2,116.8 L344.5,117.8 L347.4,118.6 L350.3,119.5 L353.2,120.3 L356.0,121.2 L358.9,122.1 L361.8,123.0 L364.7,123.9 L367.5,124.9 L370.4,125.8 L373.3,126.8 L376.2,127.8 L379.0,128.9 L381.9,129.9 L384.8,131.0 L387.7,132.1 L390.5,133.2 L393.4,134.4 L396.3,135.5 L399.1,136.7 L402.0,138.0 L404.8,139.2 L407.7,140.5 L410.6,141.8 L413.4,143.2 L416.3,144.6 L419.1,146.0 L422.0,147.4 L424.9,148.9 L427.7,150.4 L430.6,152.0 L433.4,153.6 L436.3,155.3 L439.1,157.0 L442.0,158.7 L444.8,160.5 L447.7,162.3 L450.5,164.2 L453.4,166.2 L456.2,168.2 L458.7,169.9 L461.1,171.7 L463.6,173.6 L466.0,175.5 L468.4,177.4 L470.9,179.4 L473.4,181.4 L475.8,183.5 L478.3,185.7 L480.7,187.9 L483.2,190.2 L485.6,192.5 L488.1,194.9 L490.6,197.4 L493.0,199.9 L495.5,202.5 L497.6,204.7 L499.6,207.0 L501.7,209.4 L503.8,211.8 L505.9,214.2 L507.9,216.7 L510.0,219.3 L512.1,222.0 L514.2,224.7 L516.2,227.4 L518.3,230.3 L520.4,233.2 L522.5,236.2 L524.6,239.3 L526.3,241.8 L527.9,244.4 L529.6,247.0 L531.3,249.6 L533.0,252.4 L534.7,255.2 L536.3,258.0 L538.0,260.9 L539.7,263.9 L541.4,266.9 L543.1,270.0 L544.8,273.2 L546.5,276.4 L548.1,279.7 L549.8,283.0 L551.5,286.5 L553.2,290.0 L554.9,293.6 L556.1,296.3 L557.4,299.1 L558.7,301.9 L559.9,304.8 L561.2,307.7 L562.5,310.7 L563.7,313.7 L565.0,316.7 L566.2,319.9 L567.5,323.0 L568.8,326.2 L570.0,329.5 L571.3,332.8 L572.5,336.2 L573.8,339.6 L575.0,343.1 L576.3,346.7 L577.5,350.3 L578.7,353.9 L580.0,357.6 L581.2,361.4 L582.5,365.3 L583.7,369.2 L584.9,373.1 L586.1,377.2 L587.3,381.3 L588.6,385.4 L589.8,389.7 L591.0,394.0 L591.8,396.9 L592.6,399.8 L593.4,402.8 L594.2,405.8 L594.9,408.8 L595.7,411.9 L596.5,415.0 L597.3,418.2 L598.1,421.3 L598.8,424.5 L599.6,427.8 L600.4,431.1 L601.1,434.4 L601.9,437.7 L602.7,441.1 L603.4,444.5 L604.2,448.0 L604.9,451.5 L605.7,455.1 L606.4,458.6 L607.1,462.3 L607.9,465.9 L608.6,469.6 L609.3,473.3 L610.1,477.1 L610.8,480.9 L611.5,484.8 L612.2,488.7 L612.9,492.7 L613.7,496.6 L614.4,500.7 L615.1,504.8 L615.8,508.9 L616.5,513.0 L617.2,517.2 L617.9,521.5 L618.6,525.8 L619.3,530.2 L620.0,534.5 L620.7,539.0 L621.4,543.5 L622.1,548.0 L622.9,552.6 L623.6,557.3 L624.4,561.9 L625.2,566.6 L626.0,571.4 L626.8,576.2 L627.3,578.7" stroke="#00ff00" stroke-width="1.5"/>
<path d="M60.3,1.3 L63.1,3.1 L66.0,4.9 L68.9,6.7 L71.8,8.4 L74.7,10.1 L77.8,11.5 L80.8,13.0 L83.8,14.6 L86.8,16.1 L89.8,17.6 L92.7,19.1 L95.7,20.7 L98.6,22.2 L101.6,23.8 L104.5,25.3 L107.4,26.9 L110.3,28.4 L113.2,30.0 L116.1,31.6 L119.0,33.1 L121.8,34.7 L124.7,36.2 L127.6,37.8 L130.4,39.3 L133.3,40.8 L136.1,42.4 L138.9,43.9 L141.8,45.4 L144.6,46.9 L147.5,48.4 L150.3,49.8 L153.1,51.3 L155.9,52.8 L158.8,54.2 L161.6,55.6 L164.4,57.0 L167.3,58.4 L170.1,59.8 L172.9,61.1 L175.8,62.5 L178.6,63.8 L181.4,65.1 L184.3,66.3 L187.1,67.6 L189.9,68.8 L192.8,70.0 L195.6,71.2 L198.5,72.4 L201.4,73.5 L204.2,74.7 L207.1,75.8 L209.9,76.8 L212.8,77.9 L215.7,78.9 L218.5,79.9 L221.4,80.9 L224.3,81.9 L227.2,82.8 L230.1,83.8 L232.9,84.7 L235.8,85.6 L238.7,86.4 L241.6,87.3 L244.5,88.2 L247.4,89.0 L250.2,89.8 L253.5,90.7 L256.8,91.6 L260.1,92.5 L263.5,93.4 L266.8,94.2 L270.1,95.1 L273.4,95.9 L276.7,96.7 L280.0,97.5 L283.3,98.3 L286.6,99.1 L289.9,99.9 L293.2,100.7 L296.5,101.5 L299.8,102.2 L303.1,103.0 L306.4,103.8 L309.7,104.6 L313.0,105.3 L316.3,106.1 L319.6,106.9 L322.9,107.7 L326.2,108.5 L329.5,109.3 L332.8,110.1 L336.1,110.9 L339.4,111.7 L342.7,112.6 L346.0,113.4 L349.3,114.3 L352.6,115.2 L355.9,116.1 L359.2,117.0 L362.5,118.0 L365.7,118.9 L368.6,119.8 L371.5,120.6 L374.4,121.5 L377.3,122.4 L380.1,123.3 L383.0,124.3 L385.9,125.2 L388.8,126.2 L391.6,127.2 L394.5,128.3 L397.4,129.3 L400.3,130.4 L403.1,131.5 L406.0,132.6 L408.9,133.8 L411.7,134.9 L414.6,136.2 L417.5,137.4 L420.3,138.7 L423.2,140.0 L426.1,141.4 L428.9,142.7 L431.8,144.2 L434.7,145.6 L437.5,147.1 L440.4,148.7 L443.3,150.3 L446.1,151.9 L449.0,153.6 L451.9,155.4 L454.7,157.2 L457.6,159.0 L460.4,161.0 L463.3,162.9 L465.8,164.7 L468.2,166.5 L470.7,168.3 L473.1,170.2 L475.6,172.2 L478.0,174.2 L480.5,176.3 L483.0,178.4 L485.4,180.6 L487.9,182.8 L490.3,185.1 L492.8,187.5 L495.3,190.0 L497.7,192.5 L500.2,195.2 L502.3,197.4 L504.3,199.7 L506.4,202.1 L508.4,204.5 L510.5,207.0 L512.6,209.6 L514.6,212.2 L516.7,214.9 L518.8,217.6 L520.8,220.5 L522.9,223.4 L525.0,226.4 L527.1,229.5 L528.7,232.0 L530.4,234.6 L532.1,237.2 L533.7,239.9 L535.4,242.7 L537.0,245.5 L538.7,248.4 L540.4,251.3 L542.0,254.3 L543.7,257.4 L545.4,260.5 L547.1,263.7 L548.7,267.0 L550.4,270.4 L552.1,273.8 L553.7,277.3 L555.4,280.9 L556.7,283.7 L557.9,286.5 L559.2,289.3 L560.4,292.2 L561.7,295.1 L562.9,298.1 L564.2,301.1 L565.5,304.2 L566.7,307.4 L568.0,310.6 L569.2,313.8 L570.5,317.1 L571.7,320.5 L573.0,323.9 L574.2,327.4 L575.5,330.9 L576.7,334.6 L578.0,338.2 L579.2,341.9 L580.5,345.7 L581.7,349.6 L582.9,353.5 L584.2,357.5 L585.4,361.6 L586.6,365.7 L587.9,369.9 L589.1,374.2 L589.9,377.1 L590.7,380.0 L591.6,383.0 L592.4,385.9 L593.2,389.0 L594.0,392.0 L594.8,395.1 L595.6,398.3 L596.4,401.4 L597.2,404.6 L598.0,407.9 L598.8,411.2 L599.6,414.5 L600.4,417.8 L601.2,421.2 L602.0,424.7 L602.7,428.2 L603.5,431.7 L604.3,435.2 L605.1,438.8 L605.8,442.5 L606.6,446.2 L607.4,449.9 L608.1,453.7 L608.9,457.5 L609.7,461.3 L610.4,465.2 L611.2,469.2 L611.9,473.2 L612.7,477.2 L613.4,481.3 L614.2,485.4 L614.9,489.6 L615.7,493.8 L616.4,498.1 L617.2,502.4 L617.9,506.8 L618.6,511.2 L619.4,515.7 L620.1,520.2 L620.8,524.8 L621.6,529.5 L622.3,534.1 L623.1,538.9 L623.8,543.7 L624.5,548.5 L625.3,553.4 L626.0,558.4 L626.8,563.4 L627.7,568.5 L628.5,573.6 L629.3,578.8" stroke="#1a5c1a" stroke-width="1.4"/>
<path d="M60.0,-6.0 L62.9,-4.2 L65.8,-2.4 L68.6,-0.6 L71.5,1.2 L74.4,3.0 L77.4,4.6 L80.4,6.2 L83.4,7.8 L86.3,9.4 L89.3,11.1 L92.2,12.7 L95.1,14.3 L98.1,15.9 L101.0,17.6 L103.9,19.2 L106.8,20.8 L109.7,22.5 L112.6,24.1 L115.5,25.7 L118.3,27.3 L121.2,28.9 L124.1,30.5 L127.0,32.1 L129.8,33.7 L132.7,35.3 L135.5,36.9 L138.4,38.5 L141.2,40.0 L144.1,41.6 L146.9,43.1 L149.8,44.6 L152.6,46.2 L155.5,47.7 L158.3,49.1 L161.2,50.6 L164.0,52.1 L166.9,53.5 L169.7,54.9 L172.6,56.3 L175.4,57.7 L178.2,59.1 L181.1,60.4 L183.9,61.7 L186.8,63.0 L189.6,64.3 L192.5,65.6 L195.4,66.8 L198.2,68.1 L201.1,69.3 L203.9,70.4 L206.8,71.6 L209.7,72.7 L212.5,73.9 L215.4,74.9 L218.3,76.0 L221.1,77.1 L224.0,78.1 L226.9,79.1 L229.8,80.1 L232.7,81.1 L235.5,82.0 L238.4,82.9 L241.3,83.9 L244.2,84.7 L247.1,85.6 L249.9,86.5 L252.8,87.3 L255.7,88.2 L259.0,89.1 L262.3,90.0 L265.6,90.9 L268.9,91.8 L272.2,92.7 L275.5,93.5 L278.8,94.3 L282.1,95.2 L285.4,96.0 L288.7,96.8 L292.0,97.6 L295.2,98.3 L298.5,99.1 L301.8,99.9 L305.1,100.6 L308.4,101.4 L311.7,102.1 L315.0,102.9 L318.3,103.6 L321.6,104.4 L324.9,105.1 L328.2,105.9 L331.5,106.6 L334.8,107.4 L338.1,108.2 L341.4,108.9 L344.7,109.7 L348.0,110.5 L351.3,111.3 L354.6,112.1 L357.9,112.9 L361.1,113.7 L364.4,114.6 L367.7,115.5 L371.0,116.3 L374.3,117.2 L377.6,118.2 L380.9,119.1 L383.8,119.9 L386.7,120.8 L389.5,121.7 L392.4,122.6 L395.3,123.5 L398.2,124.4 L401.1,125.4 L403.9,126.4 L406.8,127.4 L409.7,128.5 L412.6,129.5 L415.5,130.6 L418.3,131.8 L421.2,132.9 L424.1,134.2 L427.0,135.4 L429.8,136.7 L432.7,138.0 L435.6,139.3 L438.5,140.8 L441.3,142.2 L444.2,143.7 L447.1,145.2 L450.0,146.8 L452.8,148.5 L455.7,150.2 L458.6,152.0 L461.5,153.8 L464.3,155.7 L467.2,157.6 L469.7,159.4 L472.1,161.1 L474.6,163.0 L477.0,164.9 L479.5,166.8 L481.9,168.9 L484.4,170.9 L486.8,173.1 L489.3,175.3 L491.8,177.6 L494.2,180.0 L496.7,182.4 L499.1,184.9 L501.6,187.5 L503.6,189.7 L505.7,192.0 L507.7,194.4 L509.8,196.8 L511.8,199.3 L513.8,201.8 L515.9,204.4 L517.9,207.1 L520.0,209.9 L522.0,212.8 L524.1,215.7 L526.1,218.7 L528.2,221.8 L529.8,224.3 L531.4,226.9 L533.1,229.6 L534.7,232.3 L536.4,235.1 L538.0,237.9 L539.7,240.8 L541.3,243.8 L543.0,246.8 L544.6,249.9 L546.3,253.1 L547.9,256.3 L549.6,259.6 L551.2,263.0 L552.9,266.5 L554.6,270.1 L556.2,273.7 L557.5,276.5 L558.7,279.3 L560.0,282.2 L561.3,285.1 L562.5,288.1 L563.8,291.1 L565.1,294.2 L566.3,297.4 L567.6,300.5 L568.9,303.8 L570.1,307.1 L571.4,310.5 L572.7,313.9 L574.0,317.4 L575.3,320.9 L576.5,324.5 L577.8,328.2 L579.1,331.9 L580.4,335.7 L581.7,339.6 L582.9,343.5 L584.2,347.6 L585.5,351.6 L586.8,355.8 L588.0,360.0 L589.3,364.3 L590.2,367.2 L591.0,370.2 L591.8,373.2 L592.7,376.2 L593.5,379.2 L594.4,382.3 L595.2,385.5 L596.0,388.6 L596.8,391.8 L597.7,395.1 L598.5,398.4 L599.3,401.7 L600.1,405.1 L600.9,408.5 L601.7,411.9 L602.5,415.4 L603.3,418.9 L604.0,422.5 L604.8,426.1 L605.6,429.8 L606.4,433.5 L607.1,437.2 L607.9,441.0 L608.6,444.8 L609.4,448.7 L610.1,452.6 L610.8,456.6 L611.6,460.6 L612.3,464.7 L613.0,468.8 L613.7,473.0 L614.5,477.2 L615.2,481.5 L615.9,485.8 L616.6,490.2 L617.3,494.6 L618.1,499.0 L618.8,503.6 L619.5,508.1 L620.3,512.8 L621.0,517.4 L621.8,522.2 L622.5,527.0 L623.3,531.8 L624.1,536.7 L624.8,541.7 L625.6,546.7 L626.4,551.7 L627.3,556.9 L628.1,562.1 L628.9,567.3 L629.8,572.6 L630.6,578.0" stroke="#ff8000" stroke-width="1.5"/>
<path d="M60.1,-16.7 L62.9,-14.9 L65.8,-13.1 L68.7,-11.3 L71.6,-9.5 L74.4,-7.8 L77.3,-6.0 L80.2,-4.2 L83.1,-2.5 L85.9,-0.7 L88.8,1.0 L91.7,2.8 L94.6,4.5 L97.5,6.2 L100.4,7.9 L103.2,9.6 L106.1,11.3 L109.0,13.0 L111.9,14.7 L114.8,16.4 L117.7,18.1 L120.5,19.8 L123.4,21.4 L126.3,23.1 L129.2,24.7 L132.1,26.3 L135.0,28.0 L137.8,29.6 L140.7,31.2 L143.6,32.8 L146.5,34.4 L149.4,35.9 L152.2,37.5 L155.1,39.0 L158.0,40.6 L160.9,42.1 L163.8,43.6 L166.6,45.1 L169.5,46.6 L172.4,48.1 L175.3,49.5 L178.2,50.9 L181.0,52.4 L183.9,53.8 L186.8,55.2 L189.7,56.5 L192.5,57.9 L195.4,59.2 L198.3,60.6 L201.2,61.9 L204.1,63.1 L206.9,64.4 L209.8,65.7 L212.7,66.9 L215.6,68.1 L218.4,69.3 L221.3,70.5 L224.2,71.6 L227.1,72.7 L229.9,73.8 L232.8,74.9 L235.7,76.0 L238.6,77.1 L241.4,78.1 L244.3,79.1 L247.2,80.1 L250.1,81.1 L253.0,82.0 L255.8,82.9 L258.7,83.8 L261.6,84.7 L264.5,85.6 L267.7,86.6 L271.0,87.5 L274.3,88.5 L277.6,89.4 L280.9,90.2 L284.2,91.1 L287.5,91.9 L290.8,92.8 L294.0,93.6 L297.3,94.4 L300.6,95.1 L303.9,95.9 L307.2,96.6 L310.5,97.3 L313.8,98.0 L317.1,98.7 L320.3,99.4 L323.6,100.1 L326.9,100.8 L330.2,101.4 L333.5,102.1 L336.8,102.7 L340.1,103.4 L343.4,104.0 L346.6,104.7 L349.9,105.3 L353.2,106.0 L356.5,106.6 L359.8,107.3 L363.1,108.0 L366.4,108.6 L369.7,109.3 L373.0,110.0 L376.3,110.7 L379.5,111.4 L382.8,112.1 L386.1,112.9 L389.4,113.7 L392.7,114.4 L396.0,115.3 L399.3,116.1 L402.6,117.0 L405.9,117.9 L409.2,118.8 L412.0,119.6 L414.9,120.5 L417.8,121.4 L420.7,122.3 L423.6,123.3 L426.4,124.3 L429.3,125.3 L432.2,126.4 L435.1,127.5 L438.0,128.6 L440.9,129.8 L443.7,131.1 L446.6,132.4 L449.5,133.7 L452.4,135.1 L455.3,136.6 L458.1,138.1 L461.0,139.7 L463.9,141.3 L466.8,143.0 L469.7,144.8 L472.5,146.7 L475.4,148.6 L477.9,150.4 L480.4,152.2 L482.8,154.0 L485.3,156.0 L487.8,158.0 L490.2,160.0 L492.7,162.2 L495.1,164.4 L497.6,166.7 L500.1,169.1 L502.5,171.6 L505.0,174.2 L507.0,176.4 L509.1,178.7 L511.1,181.0 L513.1,183.5 L515.2,186.0 L517.2,188.6 L519.3,191.2 L521.3,194.0 L523.3,196.8 L525.4,199.7 L527.4,202.7 L529.4,205.8 L531.1,208.4 L532.7,211.0 L534.3,213.7 L535.9,216.4 L537.6,219.2 L539.2,222.1 L540.8,225.1 L542.4,228.1 L544.1,231.2 L545.7,234.4 L547.3,237.6 L548.9,240.9 L550.6,244.4 L552.2,247.9 L553.8,251.5 L555.1,254.2 L556.3,257.0 L557.5,259.9 L558.7,262.8 L559.9,265.7 L561.2,268.7 L562.4,271.8 L563.6,274.9 L564.9,278.1 L566.1,281.3 L567.3,284.6 L568.6,288.0 L569.8,291.4 L571.0,294.9 L572.3,298.5 L573.5,302.1 L574.8,305.8 L576.0,309.5 L577.3,313.4 L578.5,317.3 L579.8,321.2 L581.0,325.3 L582.3,329.4 L583.6,333.6 L584.8,337.9 L585.7,340.8 L586.5,343.7 L587.4,346.7 L588.2,349.7 L589.1,352.7 L589.9,355.8 L590.8,358.9 L591.6,362.1 L592.5,365.2 L593.3,368.5 L594.2,371.8 L595.0,375.1 L595.9,378.4 L596.7,381.8 L597.6,385.3 L598.4,388.8 L599.3,392.3 L600.2,395.9 L601.0,399.5 L601.9,403.1 L602.7,406.9 L603.6,410.6 L604.4,414.4 L605.3,418.3 L606.2,422.2 L607.0,426.1 L607.9,430.1 L608.7,434.2 L609.6,438.3 L610.4,442.4 L611.3,446.6 L612.1,450.9 L613.0,455.2 L613.8,459.5 L614.7,464.0 L615.5,468.4 L616.3,473.0 L617.1,477.6 L618.0,482.2 L618.8,486.9 L619.6,491.7 L620.4,496.5 L621.2,501.4 L621.9,506.3 L622.7,511.4 L623.4,516.4 L624.2,521.6 L624.9,526.8 L625.6,532.1 L626.3,537.4 L627.0,542.8 L627.7,548.3 L628.3,553.9 L628.9,559.5 L629.8,565.1 L630.6,570.9 L631.4,576.7 L631.8,579.6" stroke="#ff0000" stroke-width="1.5"/>
<path d="M81.2,-19.9 L84.1,-18.0 L86.9,-16.2 L89.8,-14.3 L92.7,-12.5 L95.6,-10.6 L98.4,-8.8 L101.3,-7.0 L104.2,-5.2 L107.1,-3.3 L110.0,-1.5 L112.8,0.3 L115.7,2.1 L118.6,3.9 L121.4,5.7 L124.3,7.5 L127.2,9.3 L130.0,11.0 L132.9,12.8 L135.8,14.6 L138.7,16.3 L141.5,18.1 L144.4,19.8 L147.3,21.5 L150.2,23.2 L153.0,24.9 L155.9,26.6 L158.8,28.2 L161.7,29.9 L164.5,31.5 L167.4,33.1 L170.3,34.7 L173.2,36.3 L176.1,37.9 L178.9,39.5 L181.8,41.0 L184.7,42.6 L187.6,44.1 L190.5,45.6 L193.3,47.1 L196.2,48.6 L199.1,50.0 L202.0,51.5 L204.9,52.9 L207.7,54.3 L210.6,55.6 L213.5,57.0 L216.4,58.3 L219.3,59.7 L222.1,61.0 L225.0,62.2 L227.9,63.5 L230.8,64.7 L233.7,65.9 L236.5,67.1 L239.4,68.3 L242.3,69.5 L245.2,70.6 L248.0,71.7 L250.9,72.8 L253.8,73.9 L256.7,74.9 L259.6,76.0 L262.4,77.0 L265.3,77.9 L268.2,78.9 L271.1,79.8 L273.9,80.8 L276.8,81.7 L279.7,82.6 L282.6,83.4 L285.8,84.4 L289.1,85.3 L292.4,86.2 L295.7,87.1 L299.0,88.0 L302.3,88.8 L305.6,89.6 L308.8,90.4 L312.1,91.2 L315.4,92.0 L318.7,92.7 L322.0,93.4 L325.3,94.1 L328.6,94.8 L331.9,95.5 L335.1,96.2 L338.4,96.8 L341.7,97.4 L345.0,98.1 L348.3,98.7 L351.6,99.3 L354.9,99.9 L358.2,100.5 L361.4,101.1 L364.7,101.7 L368.0,102.3 L371.3,102.9 L374.6,103.4 L377.9,104.0 L381.2,104.6 L384.5,105.2 L387.8,105.8 L391.0,106.4 L394.3,107.0 L397.6,107.7 L400.9,108.3 L404.2,109.0 L407.5,109.6 L410.8,110.3 L414.1,111.0 L417.4,111.8 L420.7,112.5 L424.0,113.3 L427.2,114.1 L430.5,114.9 L433.8,115.8 L437.1,116.7 L440.4,117.7 L443.3,118.5 L446.2,119.4 L449.1,120.4 L451.9,121.3 L454.8,122.4 L457.7,123.4 L460.6,124.5 L463.5,125.7 L466.4,126.9 L469.2,128.2 L472.1,129.5 L475.0,130.9 L477.9,132.3 L480.8,133.8 L483.7,135.4 L486.5,137.1 L489.4,138.8 L492.3,140.7 L495.2,142.6 L497.7,144.3 L500.1,146.1 L502.6,148.0 L505.1,149.9 L507.5,151.9 L510.0,154.0 L512.5,156.3 L514.9,158.6 L517.4,161.0 L519.8,163.5 L522.3,166.1 L524.3,168.3 L526.4,170.7 L528.4,173.1 L530.4,175.6 L532.5,178.2 L534.5,180.9 L536.6,183.7 L538.6,186.6 L540.6,189.6 L542.6,192.7 L544.3,195.3 L545.9,197.9 L547.5,200.6 L549.1,203.4 L550.7,206.3 L552.4,209.2 L554.0,212.3 L555.6,215.4 L557.2,218.6 L558.8,221.9 L560.5,225.3 L562.1,228.8 L563.7,232.5 L564.9,235.2 L566.1,238.1 L567.3,241.0 L568.6,243.9 L569.8,246.9 L571.0,250.0 L572.2,253.2 L573.4,256.4 L574.7,259.7 L575.9,263.0 L577.1,266.5 L578.4,270.0 L579.6,273.6 L580.8,277.2 L582.1,281.0 L583.3,284.8 L584.6,288.7 L585.8,292.7 L587.1,296.8 L588.3,300.9 L589.6,305.2 L590.5,308.1 L591.3,311.0 L592.2,314.0 L593.0,317.0 L593.9,320.1 L594.7,323.2 L595.6,326.3 L596.4,329.5 L597.3,332.8 L598.2,336.1 L599.0,339.4 L599.9,342.8 L600.7,346.3 L601.6,349.7 L602.5,353.3 L603.3,356.9 L604.2,360.5 L605.1,364.2 L605.9,368.0 L606.8,371.8 L607.7,375.7 L608.5,379.6 L609.4,383.6 L610.2,387.6 L611.1,391.7 L612.0,395.9 L612.8,400.1 L613.7,404.4 L614.5,408.8 L615.4,413.2 L616.2,417.7 L617.0,422.2 L617.9,426.8 L618.7,431.5 L619.5,436.3 L620.3,441.1 L621.1,446.0 L621.9,451.0 L622.7,456.0 L623.5,461.1 L624.3,466.3 L625.1,471.6 L625.9,476.9 L626.7,482.3 L627.4,487.9 L628.2,493.4 L629.0,499.1 L629.7,504.9 L630.5,510.7 L631.3,516.6 L631.6,519.6 L632.0,522.6 L632.4,525.7 L632.8,528.7 L633.1,531.8 L633.5,534.9 L633.9,538.1 L634.3,541.2 L634.6,544.4 L635.0,547.6 L635.4,550.8 L635.7,554.0 L636.1,557.3 L636.5,560.6 L636.9,563.9 L637.4,567.2 L637.8,570.6 L638.2,574.0 L638.6,577.4" stroke="#8b1a1a" stroke-width="1.35"/>
</g>
<g clip-path="url(#c)">
<path d="M158.7,36.9H189.4M174.1,31.8V41.9" stroke="#8b1a1a" stroke-width="1.90" stroke-linecap="round" fill="none"/>
<circle cx="174.1" cy="36.9" r="3.25" fill="#8b1a1a"/>
<path d="M190.2,52.0H220.8M205.5,48.0V56.0" stroke="#8b1a1a" stroke-width="1.90" stroke-linecap="round" fill="none"/>
<circle cx="205.5" cy="52.0" r="3.25" fill="#8b1a1a"/>
<path d="M221.6,65.4H252.2M236.9,61.4V69.5" stroke="#8b1a1a" stroke-width="1.90" stroke-linecap="round" fill="none"/>
<circle cx="236.9" cy="65.4" r="3.25" fill="#8b1a1a"/>
<path d="M253.0,77.5H283.7M268.3,73.5V81.5" stroke="#8b1a1a" stroke-width="1.90" stroke-linecap="round" fill="none"/>
<circle cx="268.3" cy="77.5" r="3.25" fill="#8b1a1a"/>
<path d="M284.4,87.4H315.2M299.8,83.4V91.5" stroke="#8b1a1a" stroke-width="1.90" stroke-linecap="round" fill="none"/>
<circle cx="299.8" cy="87.4" r="3.25" fill="#8b1a1a"/>
<path d="M315.8,90.2H346.6M331.2,83.7V96.8" stroke="#8b1a1a" stroke-width="1.90" stroke-linecap="round" fill="none"/>
<circle cx="331.2" cy="90.2" r="3.25" fill="#8b1a1a"/>
<path d="M347.2,100.2H378.0M362.6,96.2V104.2" stroke="#8b1a1a" stroke-width="1.90" stroke-linecap="round" fill="none"/>
<circle cx="362.6" cy="100.2" r="3.25" fill="#8b1a1a"/>
<path d="M378.6,106.2H409.4M394.0,102.2V110.2" stroke="#8b1a1a" stroke-width="1.90" stroke-linecap="round" fill="none"/>
<circle cx="394.0" cy="106.2" r="3.25" fill="#8b1a1a"/>
<path d="M410.0,115.8H440.8M425.4,111.8V119.8" stroke="#8b1a1a" stroke-width="1.90" stroke-linecap="round" fill="none"/>
<circle cx="425.4" cy="115.8" r="3.25" fill="#8b1a1a"/>
<path d="M441.4,126.7H472.2M456.8,121.7V131.8" stroke="#8b1a1a" stroke-width="1.90" stroke-linecap="round" fill="none"/>
<circle cx="456.8" cy="126.7" r="3.25" fill="#8b1a1a"/>
<path d="M472.9,137.2H503.7M488.3,130.1V144.2" stroke="#8b1a1a" stroke-width="1.90" stroke-linecap="round" fill="none"/>
<circle cx="488.3" cy="137.2" r="3.25" fill="#8b1a1a"/>
<path d="M504.4,168.5H535.1M519.7,161.4V175.6" stroke="#8b1a1a" stroke-width="1.90" stroke-linecap="round" fill="none"/>
<circle cx="519.7" cy="168.5" r="3.25" fill="#8b1a1a"/>
<path d="M535.9,204.1H566.6M551.2,200.0V208.2" stroke="#8b1a1a" stroke-width="1.90" stroke-linecap="round" fill="none"/>
<circle cx="551.2" cy="204.1" r="3.25" fill="#8b1a1a"/>
<path d="M567.2,283.5H598.0M582.6,262.4V308.1" stroke="#8b1a1a" stroke-width="1.90" stroke-linecap="round" fill="none"/>
<circle cx="582.6" cy="283.5" r="3.25" fill="#8b1a1a"/>
<path d="M190.2,51.4H220.8M205.5,45.9V56.9" stroke="#ff0000" stroke-width="1.90" stroke-linecap="round" fill="none"/>
<circle cx="205.5" cy="51.4" r="3.25" fill="#ff0000"/>
<path d="M221.6,57.9H252.2M236.9,52.9V62.9" stroke="#ff0000" stroke-width="1.90" stroke-linecap="round" fill="none"/>
<circle cx="236.9" cy="57.9" r="3.25" fill="#ff0000"/>
<path d="M253.0,71.4H283.7M268.3,66.4V76.5" stroke="#ff0000" stroke-width="1.90" stroke-linecap="round" fill="none"/>
<circle cx="268.3" cy="71.4" r="3.25" fill="#ff0000"/>
<path d="M284.4,78.4H315.2M299.8,73.4V83.5" stroke="#ff0000" stroke-width="1.90" stroke-linecap="round" fill="none"/>
<circle cx="299.8" cy="78.4" r="3.25" fill="#ff0000"/>
<path d="M315.8,92.8H346.6M331.2,87.8V97.8" stroke="#ff0000" stroke-width="1.90" stroke-linecap="round" fill="none"/>
<circle cx="331.2" cy="92.8" r="3.25" fill="#ff0000"/>
<path d="M347.2,99.0H378.0M362.6,94.0V104.0" stroke="#ff0000" stroke-width="1.90" stroke-linecap="round" fill="none"/>
<circle cx="362.6" cy="99.0" r="3.25" fill="#ff0000"/>
<path d="M378.6,107.0H409.4M394.0,101.0V113.0" stroke="#ff0000" stroke-width="1.90" stroke-linecap="round" fill="none"/>
<circle cx="394.0" cy="107.0" r="3.25" fill="#ff0000"/>
<path d="M410.0,116.6H440.8M425.4,110.5V122.6" stroke="#ff0000" stroke-width="1.90" stroke-linecap="round" fill="none"/>
<circle cx="425.4" cy="116.6" r="3.25" fill="#ff0000"/>
<path d="M441.4,130.6H472.2M456.8,124.5V136.7" stroke="#ff0000" stroke-width="1.90" stroke-linecap="round" fill="none"/>
<circle cx="456.8" cy="130.6" r="3.25" fill="#ff0000"/>
<path d="M472.9,148.4H503.7M488.3,142.3V154.5" stroke="#ff0000" stroke-width="1.90" stroke-linecap="round" fill="none"/>
<circle cx="488.3" cy="148.4" r="3.25" fill="#ff0000"/>
<path d="M504.4,168.9H535.1M519.7,161.8V176.0" stroke="#ff0000" stroke-width="1.90" stroke-linecap="round" fill="none"/>
<circle cx="519.7" cy="168.9" r="3.25" fill="#ff0000"/>
<path d="M535.9,206.4H566.6M551.2,203.3V209.5" stroke="#ff0000" stroke-width="1.90" stroke-linecap="round" fill="none"/>
<circle cx="551.2" cy="206.4" r="3.25" fill="#ff0000"/>
<path d="M567.2,276.5H598.0M582.6,263.4V289.6" stroke="#ff0000" stroke-width="1.90" stroke-linecap="round" fill="none"/>
<circle cx="582.6" cy="276.5" r="3.25" fill="#ff0000"/>
<path d="M221.6,61.9H252.2M236.9,56.9V67.0" stroke="#ff8000" stroke-width="1.90" stroke-linecap="round" fill="none"/>
<circle cx="236.9" cy="61.9" r="3.25" fill="#ff8000"/>
<path d="M253.0,75.5H283.7M268.3,70.5V80.5" stroke="#ff8000" stroke-width="1.90" stroke-linecap="round" fill="none"/>
<circle cx="268.3" cy="75.5" r="3.25" fill="#ff8000"/>
<path d="M284.4,87.4H315.2M299.8,82.4V92.5" stroke="#ff8000" stroke-width="1.90" stroke-linecap="round" fill="none"/>
<circle cx="299.8" cy="87.4" r="3.25" fill="#ff8000"/>
<path d="M315.8,96.2H346.6M331.2,91.2V101.2" stroke="#ff8000" stroke-width="1.90" stroke-linecap="round" fill="none"/>
<circle cx="331.2" cy="96.2" r="3.25" fill="#ff8000"/>
<path d="M347.2,107.2H378.0M362.6,102.2V112.2" stroke="#ff8000" stroke-width="1.90" stroke-linecap="round" fill="none"/>
<circle cx="362.6" cy="107.2" r="3.25" fill="#ff8000"/>
<path d="M378.6,124.5H409.4M394.0,119.5V129.6" stroke="#ff8000" stroke-width="1.90" stroke-linecap="round" fill="none"/>
<circle cx="394.0" cy="124.5" r="3.25" fill="#ff8000"/>
<path d="M410.0,130.6H440.8M425.4,125.5V135.7" stroke="#ff8000" stroke-width="1.90" stroke-linecap="round" fill="none"/>
<circle cx="425.4" cy="130.6" r="3.25" fill="#ff8000"/>
<path d="M441.4,134.9H472.2M456.8,129.8V140.0" stroke="#ff8000" stroke-width="1.90" stroke-linecap="round" fill="none"/>
<circle cx="456.8" cy="134.9" r="3.25" fill="#ff8000"/>
<path d="M472.9,149.8H503.7M488.3,143.8V155.9" stroke="#ff8000" stroke-width="1.90" stroke-linecap="round" fill="none"/>
<circle cx="488.3" cy="149.8" r="3.25" fill="#ff8000"/>
<path d="M504.4,161.0H535.1M519.7,151.9V170.1" stroke="#ff8000" stroke-width="1.90" stroke-linecap="round" fill="none"/>
<circle cx="519.7" cy="161.0" r="3.25" fill="#ff8000"/>
<path d="M535.9,199.4H566.6M551.2,191.3V207.5" stroke="#ff8000" stroke-width="1.90" stroke-linecap="round" fill="none"/>
<circle cx="551.2" cy="199.4" r="3.25" fill="#ff8000"/>
<path d="M567.2,265.8H598.0M582.6,254.8V276.9" stroke="#ff8000" stroke-width="1.90" stroke-linecap="round" fill="none"/>
<circle cx="582.6" cy="265.8" r="3.25" fill="#ff8000"/>
<path d="M253.0,88.0H283.7M268.3,83.0V93.0" stroke="#1a5c1a" stroke-width="1.90" stroke-linecap="round" fill="none"/>
<circle cx="268.3" cy="88.0" r="3.25" fill="#1a5c1a"/>
<path d="M284.4,98.0H315.2M299.8,93.0V103.0" stroke="#1a5c1a" stroke-width="1.90" stroke-linecap="round" fill="none"/>
<circle cx="299.8" cy="98.0" r="3.25" fill="#1a5c1a"/>
<path d="M315.8,107.2H346.6M331.2,102.2V112.2" stroke="#1a5c1a" stroke-width="1.90" stroke-linecap="round" fill="none"/>
<circle cx="331.2" cy="107.2" r="3.25" fill="#1a5c1a"/>
<path d="M347.2,110.6H378.0M362.6,105.5V115.6" stroke="#1a5c1a" stroke-width="1.90" stroke-linecap="round" fill="none"/>
<circle cx="362.6" cy="110.6" r="3.25" fill="#1a5c1a"/>
<path d="M378.6,128.0H409.4M394.0,123.0V133.1" stroke="#1a5c1a" stroke-width="1.90" stroke-linecap="round" fill="none"/>
<circle cx="394.0" cy="128.0" r="3.25" fill="#1a5c1a"/>
<path d="M410.0,140.2H440.8M425.4,135.1V145.2" stroke="#1a5c1a" stroke-width="1.90" stroke-linecap="round" fill="none"/>
<circle cx="425.4" cy="140.2" r="3.25" fill="#1a5c1a"/>
<path d="M441.4,157.6H472.2M456.8,151.5V163.7" stroke="#1a5c1a" stroke-width="1.90" stroke-linecap="round" fill="none"/>
<circle cx="456.8" cy="157.6" r="3.25" fill="#1a5c1a"/>
<path d="M472.9,152.4H503.7M488.3,146.3V158.5" stroke="#1a5c1a" stroke-width="1.90" stroke-linecap="round" fill="none"/>
<circle cx="488.3" cy="152.4" r="3.25" fill="#1a5c1a"/>
<path d="M504.4,167.7H535.1M519.7,160.6V174.8" stroke="#1a5c1a" stroke-width="1.90" stroke-linecap="round" fill="none"/>
<circle cx="519.7" cy="167.7" r="3.25" fill="#1a5c1a"/>
<path d="M535.9,192.1H566.6M551.2,182.0V202.2" stroke="#1a5c1a" stroke-width="1.90" stroke-linecap="round" fill="none"/>
<circle cx="551.2" cy="192.1" r="3.25" fill="#1a5c1a"/>
<path d="M567.2,268.4H598.0M582.6,257.3V279.4" stroke="#1a5c1a" stroke-width="1.90" stroke-linecap="round" fill="none"/>
<circle cx="582.6" cy="268.4" r="3.25" fill="#1a5c1a"/>
<path d="M253.0,86.3H283.7M268.3,81.2V91.3" stroke="#00ff00" stroke-width="1.90" stroke-linecap="round" fill="none"/>
<circle cx="268.3" cy="86.3" r="3.25" fill="#00ff00"/>
<path d="M284.4,97.0H315.2M299.8,92.0V102.0" stroke="#00ff00" stroke-width="1.90" stroke-linecap="round" fill="none"/>
<circle cx="299.8" cy="97.0" r="3.25" fill="#00ff00"/>
<path d="M315.8,108.4H346.6M331.2,103.4V113.5" stroke="#00ff00" stroke-width="1.90" stroke-linecap="round" fill="none"/>
<circle cx="331.2" cy="108.4" r="3.25" fill="#00ff00"/>
<path d="M347.2,125.5H378.0M362.6,120.5V130.6" stroke="#00ff00" stroke-width="1.90" stroke-linecap="round" fill="none"/>
<circle cx="362.6" cy="125.5" r="3.25" fill="#00ff00"/>
<path d="M378.6,130.6H409.4M394.0,125.5V135.7" stroke="#00ff00" stroke-width="1.90" stroke-linecap="round" fill="none"/>
<circle cx="394.0" cy="130.6" r="3.25" fill="#00ff00"/>
<path d="M410.0,140.2H440.8M425.4,134.1V146.2" stroke="#00ff00" stroke-width="1.90" stroke-linecap="round" fill="none"/>
<circle cx="425.4" cy="140.2" r="3.25" fill="#00ff00"/>
<path d="M441.4,147.7H472.2M456.8,141.6V153.8" stroke="#00ff00" stroke-width="1.90" stroke-linecap="round" fill="none"/>
<circle cx="456.8" cy="147.7" r="3.25" fill="#00ff00"/>
<path d="M472.9,155.9H503.7M488.3,148.8V163.0" stroke="#00ff00" stroke-width="1.90" stroke-linecap="round" fill="none"/>
<circle cx="488.3" cy="155.9" r="3.25" fill="#00ff00"/>
<path d="M504.4,174.1H535.1M519.7,167.0V181.2" stroke="#00ff00" stroke-width="1.90" stroke-linecap="round" fill="none"/>
<circle cx="519.7" cy="174.1" r="3.25" fill="#00ff00"/>
<path d="M535.9,200.8H566.6M551.2,192.8V208.9" stroke="#00ff00" stroke-width="1.90" stroke-linecap="round" fill="none"/>
<circle cx="551.2" cy="200.8" r="3.25" fill="#00ff00"/>
<path d="M567.2,246.8H598.0M582.6,233.8V259.9" stroke="#00ff00" stroke-width="1.90" stroke-linecap="round" fill="none"/>
<circle cx="582.6" cy="246.8" r="3.25" fill="#00ff00"/>
<path d="M598.7,348.6H629.8M614.2,329.6V378.7" stroke="#00ff00" stroke-width="1.90" stroke-linecap="round" fill="none"/>
<circle cx="614.2" cy="348.6" r="3.25" fill="#00ff00"/>
<path d="M315.8,129.8H346.6M331.2,123.8V135.9" stroke="#00ffff" stroke-width="1.90" stroke-linecap="round" fill="none"/>
<circle cx="331.2" cy="129.8" r="3.25" fill="#00ffff"/>
<path d="M347.2,127.2H378.0M362.6,122.2V132.2" stroke="#00ffff" stroke-width="1.90" stroke-linecap="round" fill="none"/>
<circle cx="362.6" cy="127.2" r="3.25" fill="#00ffff"/>
<path d="M378.6,140.2H409.4M394.0,135.1V145.2" stroke="#00ffff" stroke-width="1.90" stroke-linecap="round" fill="none"/>
<circle cx="394.0" cy="140.2" r="3.25" fill="#00ffff"/>
<path d="M410.0,149.8H440.8M425.4,143.8V155.9" stroke="#00ffff" stroke-width="1.90" stroke-linecap="round" fill="none"/>
<circle cx="425.4" cy="149.8" r="3.25" fill="#00ffff"/>
<path d="M441.4,168.4H472.2M456.8,161.3V175.5" stroke="#00ffff" stroke-width="1.90" stroke-linecap="round" fill="none"/>
<circle cx="456.8" cy="168.4" r="3.25" fill="#00ffff"/>
<path d="M472.9,189.4H503.7M488.3,181.3V197.5" stroke="#00ffff" stroke-width="1.90" stroke-linecap="round" fill="none"/>
<circle cx="488.3" cy="189.4" r="3.25" fill="#00ffff"/>
<path d="M504.4,212.6H535.1M519.7,203.0V222.2" stroke="#00ffff" stroke-width="1.90" stroke-linecap="round" fill="none"/>
<circle cx="519.7" cy="212.6" r="3.25" fill="#00ffff"/>
<path d="M535.9,225.8H566.6M551.2,213.8V237.9" stroke="#00ffff" stroke-width="1.90" stroke-linecap="round" fill="none"/>
<circle cx="551.2" cy="225.8" r="3.25" fill="#00ffff"/>
<path d="M567.2,250.8H598.0M582.6,237.8V263.9" stroke="#00ffff" stroke-width="1.90" stroke-linecap="round" fill="none"/>
<circle cx="582.6" cy="250.8" r="3.25" fill="#00ffff"/>
<path d="M598.9,300.5H629.6M614.2,298.4V302.6" stroke="#00ffff" stroke-width="1.90" stroke-linecap="round" fill="none"/>
<circle cx="614.2" cy="300.5" r="3.25" fill="#00ffff"/>
<path d="M347.2,140.2H378.0M362.6,134.1V146.2" stroke="#0000ff" stroke-width="1.90" stroke-linecap="round" fill="none"/>
<circle cx="362.6" cy="140.2" r="3.25" fill="#0000ff"/>
<path d="M378.6,150.6H409.4M394.0,144.5V156.7" stroke="#0000ff" stroke-width="1.90" stroke-linecap="round" fill="none"/>
<circle cx="394.0" cy="150.6" r="3.25" fill="#0000ff"/>
<path d="M410.0,173.3H440.8M425.4,166.2V180.4" stroke="#0000ff" stroke-width="1.90" stroke-linecap="round" fill="none"/>
<circle cx="425.4" cy="173.3" r="3.25" fill="#0000ff"/>
<path d="M441.8,195.3H472.6M457.2,187.2V203.4" stroke="#0000ff" stroke-width="1.90" stroke-linecap="round" fill="none"/>
<circle cx="457.2" cy="195.3" r="3.25" fill="#0000ff"/>
<path d="M472.8,217.2H503.6M488.2,207.6V226.8" stroke="#0000ff" stroke-width="1.90" stroke-linecap="round" fill="none"/>
<circle cx="488.2" cy="217.2" r="3.25" fill="#0000ff"/>
<path d="M504.4,249.2H535.1M519.8,234.4V263.9" stroke="#0000ff" stroke-width="1.90" stroke-linecap="round" fill="none"/>
<circle cx="519.8" cy="249.2" r="3.25" fill="#0000ff"/>
<path d="M567.2,278.4H598.0M582.6,258.3V293.4" stroke="#0000ff" stroke-width="1.90" stroke-linecap="round" fill="none"/>
<circle cx="582.6" cy="278.4" r="3.25" fill="#0000ff"/>
<path d="M535.9,264.9H566.6M551.2,241.4V284.4" stroke="#0000ff" stroke-width="1.90" stroke-linecap="round" fill="none"/>
<circle cx="551.2" cy="264.9" r="3.25" fill="#0000ff"/>
<path d="M598.7,329.4H629.8M614.2,163.5V355.8" stroke="#0000ff" stroke-width="1.90" stroke-linecap="round" fill="none"/>
<circle cx="614.2" cy="329.4" r="3.25" fill="#0000ff"/>
<path d="M92.9,76.7H155.0M123.9,63.8V89.7" stroke="#191970" stroke-width="2.10" stroke-linecap="round" fill="none"/>
<circle cx="123.9" cy="76.7" r="3.25" fill="#191970"/>
<path d="M155.5,81.6H217.7M186.6,72.6V90.5" stroke="#191970" stroke-width="2.10" stroke-linecap="round" fill="none"/>
<circle cx="186.6" cy="81.6" r="3.25" fill="#191970"/>
<path d="M218.6,110.0H280.7M249.7,102.0V118.0" stroke="#191970" stroke-width="2.10" stroke-linecap="round" fill="none"/>
<circle cx="249.7" cy="110.0" r="3.25" fill="#191970"/>
<path d="M281.3,131.0H343.4M312.4,117.0V144.9" stroke="#191970" stroke-width="2.10" stroke-linecap="round" fill="none"/>
<circle cx="312.4" cy="131.0" r="3.25" fill="#191970"/>
<path d="M344.1,180.2H406.2M375.2,170.8V189.6" stroke="#191970" stroke-width="2.10" stroke-linecap="round" fill="none"/>
<circle cx="375.2" cy="180.2" r="3.25" fill="#191970"/>
<path d="M406.9,234.6H469.1M438.0,218.7V250.5" stroke="#191970" stroke-width="2.10" stroke-linecap="round" fill="none"/>
<circle cx="438.0" cy="234.6" r="3.25" fill="#191970"/>
<path d="M469.8,287.0H531.9M500.8,268.1V305.9" stroke="#191970" stroke-width="2.10" stroke-linecap="round" fill="none"/>
<circle cx="500.8" cy="287.0" r="3.25" fill="#191970"/>
<path d="M268.9,109.2H299.7M284.3,93.2V125.2" stroke="#191970" stroke-width="1.90" stroke-linecap="round" fill="none"/>
<circle cx="284.3" cy="109.2" r="3.25" fill="#191970"/>
<path d="M300.3,129.8H331.1M315.7,115.8V143.9" stroke="#191970" stroke-width="1.90" stroke-linecap="round" fill="none"/>
<circle cx="315.7" cy="129.8" r="3.25" fill="#191970"/>
<path d="M331.9,143.0H362.7M347.3,134.9V151.1" stroke="#191970" stroke-width="1.90" stroke-linecap="round" fill="none"/>
<circle cx="347.3" cy="143.0" r="3.25" fill="#191970"/>
<path d="M362.8,149.3H393.5M378.1,143.2V155.4" stroke="#191970" stroke-width="1.90" stroke-linecap="round" fill="none"/>
<circle cx="378.1" cy="149.3" r="3.25" fill="#191970"/>
<path d="M394.8,166.7H425.5M410.1,160.6V172.8" stroke="#191970" stroke-width="1.90" stroke-linecap="round" fill="none"/>
<circle cx="410.1" cy="166.7" r="3.25" fill="#191970"/>
<path d="M425.8,188.3H456.5M441.1,180.2V196.4" stroke="#191970" stroke-width="1.90" stroke-linecap="round" fill="none"/>
<circle cx="441.1" cy="188.3" r="3.25" fill="#191970"/>
<path d="M457.1,225.7H487.9M472.5,217.6V233.8" stroke="#191970" stroke-width="1.90" stroke-linecap="round" fill="none"/>
<circle cx="472.5" cy="225.7" r="3.25" fill="#191970"/>
<path d="M551.9,276.7H582.6M567.2,258.6V294.8" stroke="#191970" stroke-width="1.90" stroke-linecap="round" fill="none"/>
<circle cx="567.2" cy="276.7" r="3.25" fill="#191970"/>
<path d="M520.1,326.5H550.9M535.5,297.4V361.6" stroke="#191970" stroke-width="1.90" stroke-linecap="round" fill="none"/>
<circle cx="535.5" cy="326.5" r="3.25" fill="#191970"/>
<path d="M463.8,244.7H488.6M476.2,240.4V248.9" stroke="#191970" stroke-width="1.90" stroke-linecap="round" fill="none"/>
<circle cx="476.2" cy="244.7" r="3.25" fill="#191970"/>
<path d="M488.4,254.9H513.4M500.9,249.3V260.4" stroke="#191970" stroke-width="1.90" stroke-linecap="round" fill="none"/>
<circle cx="500.9" cy="254.9" r="3.25" fill="#191970"/>
<path d="M513.8,279.7H538.7M526.2,268.6V290.8" stroke="#191970" stroke-width="1.90" stroke-linecap="round" fill="none"/>
<circle cx="526.2" cy="279.7" r="3.25" fill="#191970"/>
<path d="M538.6,296.8H563.6M551.1,284.8V308.9" stroke="#191970" stroke-width="1.90" stroke-linecap="round" fill="none"/>
<circle cx="551.1" cy="296.8" r="3.25" fill="#191970"/>
<path d="M563.8,306.0H588.7M576.2,296.9V315.1" stroke="#191970" stroke-width="1.90" stroke-linecap="round" fill="none"/>
<circle cx="576.2" cy="306.0" r="3.25" fill="#191970"/>
<path d="M589.2,375.4H614.2M601.7,330.8V414.4" stroke="#191970" stroke-width="1.90" stroke-linecap="round" fill="none"/>
<circle cx="601.7" cy="375.4" r="3.25" fill="#191970"/>
<path d="M614.2,411.0H639.2M626.7,366.4V473.2" stroke="#191970" stroke-width="1.90" stroke-linecap="round" fill="none"/>
<circle cx="626.7" cy="411.0" r="3.25" fill="#191970"/>
<path d="M93.1,102.3H154.8M123.9,95.5V109.0" stroke="#ff00ff" stroke-width="2.50" stroke-linecap="round" fill="none"/>
<circle cx="123.9" cy="102.3" r="3.25" fill="#ff00ff"/>
<path d="M155.8,107.6H217.4M186.6,100.8V114.3" stroke="#ff00ff" stroke-width="2.50" stroke-linecap="round" fill="none"/>
<circle cx="186.6" cy="107.6" r="3.25" fill="#ff00ff"/>
<path d="M218.8,134.9H280.5M249.7,128.2V141.7" stroke="#ff00ff" stroke-width="2.50" stroke-linecap="round" fill="none"/>
<circle cx="249.7" cy="134.9" r="3.25" fill="#ff00ff"/>
<path d="M281.5,154.4H343.2M312.4,147.7V161.2" stroke="#ff00ff" stroke-width="2.50" stroke-linecap="round" fill="none"/>
<circle cx="312.4" cy="154.4" r="3.25" fill="#ff00ff"/>
<path d="M344.3,206.7H406.1M375.2,197.9V215.4" stroke="#ff00ff" stroke-width="2.50" stroke-linecap="round" fill="none"/>
<circle cx="375.2" cy="206.7" r="3.25" fill="#ff00ff"/>
<path d="M407.1,261.1H468.9M438.0,250.4V271.9" stroke="#ff00ff" stroke-width="2.50" stroke-linecap="round" fill="none"/>
<circle cx="438.0" cy="261.1" r="3.25" fill="#ff00ff"/>
<path d="M469.9,318.6H531.6M500.8,291.1V333.4" stroke="#ff00ff" stroke-width="2.50" stroke-linecap="round" fill="none"/>
<circle cx="500.8" cy="318.6" r="3.25" fill="#ff00ff"/>
<path d="M268.9,180.7H299.7M284.3,173.8V187.5" stroke="#ff00ff" stroke-width="1.90" stroke-linecap="round" fill="none"/>
<circle cx="284.3" cy="180.7" r="3.25" fill="#ff00ff"/>
<path d="M300.3,191.0H331.1M315.7,184.2V197.8" stroke="#ff00ff" stroke-width="1.90" stroke-linecap="round" fill="none"/>
<circle cx="315.7" cy="191.0" r="3.25" fill="#ff00ff"/>
<path d="M331.9,206.7H362.7M347.3,199.1V214.2" stroke="#ff00ff" stroke-width="1.90" stroke-linecap="round" fill="none"/>
<circle cx="347.3" cy="206.7" r="3.25" fill="#ff00ff"/>
<path d="M363.3,209.7H394.1M378.7,201.6V217.8" stroke="#ff00ff" stroke-width="1.90" stroke-linecap="round" fill="none"/>
<circle cx="378.7" cy="209.7" r="3.25" fill="#ff00ff"/>
<path d="M394.8,212.3H425.5M410.1,204.6V220.1" stroke="#ff00ff" stroke-width="1.90" stroke-linecap="round" fill="none"/>
<circle cx="410.1" cy="212.3" r="3.25" fill="#ff00ff"/>
<path d="M425.8,228.8H456.5M441.1,217.8V239.9" stroke="#ff00ff" stroke-width="1.90" stroke-linecap="round" fill="none"/>
<circle cx="441.1" cy="228.8" r="3.25" fill="#ff00ff"/>
<path d="M457.5,259.3H488.2M472.9,243.8V274.9" stroke="#ff00ff" stroke-width="1.90" stroke-linecap="round" fill="none"/>
<circle cx="472.9" cy="259.3" r="3.25" fill="#ff00ff"/>
<path d="M488.5,276.0H519.2M503.9,256.9V295.1" stroke="#ff00ff" stroke-width="1.90" stroke-linecap="round" fill="none"/>
<circle cx="503.9" cy="276.0" r="3.25" fill="#ff00ff"/>
<path d="M520.4,290.4H551.1M535.8,266.3V314.4" stroke="#ff00ff" stroke-width="1.90" stroke-linecap="round" fill="none"/>
<circle cx="535.8" cy="290.4" r="3.25" fill="#ff00ff"/>
<path d="M463.6,291.3H488.4M476.0,282.2V309.4" stroke="#ff00ff" stroke-width="1.90" stroke-linecap="round" fill="none"/>
<circle cx="476.0" cy="291.3" r="3.25" fill="#ff00ff"/>
<path d="M488.4,326.7H513.2M500.8,315.6V345.8" stroke="#ff00ff" stroke-width="1.90" stroke-linecap="round" fill="none"/>
<circle cx="500.8" cy="326.7" r="3.25" fill="#ff00ff"/>
<path d="M513.8,316.6H538.7M526.2,305.6V348.7" stroke="#ff00ff" stroke-width="1.90" stroke-linecap="round" fill="none"/>
<circle cx="526.2" cy="316.6" r="3.25" fill="#ff00ff"/>
<path d="M538.6,366.8H563.6M551.1,323.8V409.6" stroke="#ff00ff" stroke-width="1.90" stroke-linecap="round" fill="none"/>
<circle cx="551.1" cy="366.8" r="3.25" fill="#ff00ff"/>
<path d="M563.9,372.9H588.9M576.4,331.4V415.6" stroke="#ff00ff" stroke-width="1.90" stroke-linecap="round" fill="none"/>
<circle cx="576.4" cy="372.9" r="3.25" fill="#ff00ff"/>
<path d="M589.2,403.5H614.2M601.7,354.4V465.6" stroke="#ff00ff" stroke-width="1.90" stroke-linecap="round" fill="none"/>
<circle cx="601.7" cy="403.5" r="3.25" fill="#ff00ff"/>
<path d="M93.0,92.7H154.9M123.9,83.9V101.5" stroke="#8b1a8b" stroke-width="2.30" stroke-linecap="round" fill="none"/>
<circle cx="123.9" cy="92.7" r="3.25" fill="#8b1a8b"/>
<path d="M155.6,98.4H217.6M186.6,89.6V107.2" stroke="#8b1a8b" stroke-width="2.30" stroke-linecap="round" fill="none"/>
<circle cx="186.6" cy="98.4" r="3.25" fill="#8b1a8b"/>
<path d="M218.7,131.1H280.6M249.7,120.2V141.9" stroke="#8b1a8b" stroke-width="2.30" stroke-linecap="round" fill="none"/>
<circle cx="249.7" cy="131.1" r="3.25" fill="#8b1a8b"/>
<path d="M281.4,152.7H343.3M312.4,139.8V165.5" stroke="#8b1a8b" stroke-width="2.30" stroke-linecap="round" fill="none"/>
<circle cx="312.4" cy="152.7" r="3.25" fill="#8b1a8b"/>
<path d="M344.2,211.1H406.1M375.2,191.2V230.9" stroke="#8b1a8b" stroke-width="2.30" stroke-linecap="round" fill="none"/>
<circle cx="375.2" cy="211.1" r="3.25" fill="#8b1a8b"/>
<path d="M407.1,269.8H468.9M438.0,243.7V295.9" stroke="#8b1a8b" stroke-width="2.30" stroke-linecap="round" fill="none"/>
<circle cx="438.0" cy="269.8" r="3.25" fill="#8b1a8b"/>
<path d="M469.9,332.0H531.8M500.8,300.6V389.4" stroke="#8b1a8b" stroke-width="2.30" stroke-linecap="round" fill="none"/>
<circle cx="500.8" cy="332.0" r="3.25" fill="#8b1a8b"/>
<path d="M92.9,97.4H155.0M123.9,64.5V130.4" stroke="#484848" stroke-width="2.10" stroke-linecap="round" fill="none"/>
<circle cx="123.9" cy="97.4" r="3.25" fill="#484848"/>
<path d="M155.5,104.5H217.7M186.6,73.5V135.4" stroke="#484848" stroke-width="2.10" stroke-linecap="round" fill="none"/>
<circle cx="186.6" cy="104.5" r="3.25" fill="#484848"/>
<path d="M218.6,143.3H280.7M249.7,114.4V172.2" stroke="#484848" stroke-width="2.10" stroke-linecap="round" fill="none"/>
<circle cx="249.7" cy="143.3" r="3.25" fill="#484848"/>
<path d="M281.3,169.2H343.4M312.4,141.8V196.6" stroke="#484848" stroke-width="2.10" stroke-linecap="round" fill="none"/>
<circle cx="312.4" cy="169.2" r="3.25" fill="#484848"/>
<path d="M344.1,234.8H406.2M375.2,204.9V264.8" stroke="#484848" stroke-width="2.10" stroke-linecap="round" fill="none"/>
<circle cx="375.2" cy="234.8" r="3.25" fill="#484848"/>
<path d="M406.9,295.3H469.1M438.0,271.8V345.2" stroke="#484848" stroke-width="2.10" stroke-linecap="round" fill="none"/>
<circle cx="438.0" cy="295.3" r="3.25" fill="#484848"/>
</g>
<g stroke="#000" stroke-width="1.3" fill="none">
<rect x="73.5" y="2.0" width="616.1" height="556.3"/>
<path d="M98.55,558.3v-6M98.55,2.0v6M123.70,558.3v-6M123.70,2.0v6M148.85,558.3v-6M148.85,2.0v6M174.00,558.3v-12M174.00,2.0v12M199.15,558.3v-6M199.15,2.0v6M224.30,558.3v-6M224.30,2.0v6M249.45,558.3v-6M249.45,2.0v6M274.60,558.3v-6M274.60,2.0v6M299.75,558.3v-12M299.75,2.0v12M324.90,558.3v-6M324.90,2.0v6M350.05,558.3v-6M350.05,2.0v6M375.20,558.3v-6M375.20,2.0v6M400.35,558.3v-6M400.35,2.0v6M425.50,558.3v-12M425.50,2.0v12M450.65,558.3v-6M450.65,2.0v6M475.80,558.3v-6M475.80,2.0v6M500.95,558.3v-6M500.95,2.0v6M526.10,558.3v-6M526.10,2.0v6M551.25,558.3v-12M551.25,2.0v12M576.40,558.3v-6M576.40,2.0v6M601.55,558.3v-6M601.55,2.0v6M626.70,558.3v-6M626.70,2.0v6M651.85,558.3v-6M651.85,2.0v6M677.00,558.3v-12M677.00,2.0v12M73.5,500.20h6M689.6,500.20h-6M73.5,417.20h12M689.6,417.20h-12M73.5,334.20h6M689.6,334.20h-6M73.5,251.20h12M689.6,251.20h-12M73.5,168.20h6M689.6,168.20h-6M73.5,85.20h12M689.6,85.20h-12"/>
</g>
<text x="166.6" y="588.3" font-size="25.5" fill="#000" text-anchor="start" textLength="14.800000000000011" lengthAdjust="spacingAndGlyphs" >8</text>
<text x="292.8" y="588.3" font-size="25.5" fill="#000" text-anchor="start" textLength="14.800000000000011" lengthAdjust="spacingAndGlyphs" >9</text>
<text x="413" y="588.3" font-size="25.5" fill="#000" text-anchor="start" textLength="27.399999999999977" lengthAdjust="spacingAndGlyphs" >10</text>
<text x="538.5" y="588.3" font-size="25.5" fill="#000" text-anchor="start" textLength="27.799999999999955" lengthAdjust="spacingAndGlyphs" >11</text>
<text x="664.5" y="588.3" font-size="25.5" fill="#000" text-anchor="start" textLength="28.0" lengthAdjust="spacingAndGlyphs" >12</text>
<text transform="translate(57,100.2) rotate(-90)" font-size="25.5" textLength="30" lengthAdjust="spacingAndGlyphs">−2</text>
<text transform="translate(57,266.2) rotate(-90)" font-size="25.5" textLength="30" lengthAdjust="spacingAndGlyphs">−4</text>
<text transform="translate(57,432.2) rotate(-90)" font-size="25.5" textLength="30" lengthAdjust="spacingAndGlyphs">−6</text>
<text x="372.3" y="31.2" font-size="27.5" fill="#000" text-anchor="start" textLength="52.7" lengthAdjust="spacingAndGlyphs" >Star</text>
<path d="M428,21.8H446" stroke="#000" stroke-width="1.3"/>
<text x="448.2" y="31.2" font-size="27.5" fill="#000" text-anchor="start" textLength="102.8" lengthAdjust="spacingAndGlyphs" >Forming</text>
<text x="566.2" y="31.2" font-size="27.5" fill="#000" text-anchor="start" textLength="104.2" lengthAdjust="spacingAndGlyphs" >Galaxies</text>
<text x="293.7" y="58.5" font-size="21" fill="#000" text-anchor="start" textLength="28.3" lengthAdjust="spacingAndGlyphs" >MF</text>
<text x="332.7" y="58.5" font-size="21" fill="#000" text-anchor="start" textLength="76.6" lengthAdjust="spacingAndGlyphs" >evolved</text>
<text x="423.2" y="58.5" font-size="21" fill="#000" text-anchor="start" textLength="46.8" lengthAdjust="spacingAndGlyphs" >back</text>
<text x="482.1" y="58.5" font-size="21" fill="#000" text-anchor="start" textLength="19.7" lengthAdjust="spacingAndGlyphs" >in</text>
<text x="513.4" y="58.5" font-size="21" fill="#000" text-anchor="start" textLength="46.8" lengthAdjust="spacingAndGlyphs" >time</text>
<text x="573.5" y="58.5" font-size="21" fill="#000" text-anchor="start" textLength="54" lengthAdjust="spacingAndGlyphs" >using</text>
<path d="M657.3,47.2 L656.4,42.3 H640.6 L648.9,51.8 L640.9,61.5 H657 L657.8,56.6" fill="none" stroke="#000" stroke-width="1.25" stroke-linejoin="miter"/>
<text x="659.6" y="58.5" font-size="21" fill="#000" text-anchor="start" textLength="11.4" lengthAdjust="spacingAndGlyphs" >S</text>
<text x="475" y="86.3" font-size="21" fill="#000" text-anchor="start" textLength="97" lengthAdjust="spacingAndGlyphs" >Assuming</text>
<text x="587.8" y="86.4" font-size="21" fill="#000" text-anchor="start" textLength="9" lengthAdjust="spacingAndGlyphs" >z</text>
<text x="598.1" y="92.8" font-size="15" font-weight="bold" textLength="39.3" lengthAdjust="spacingAndGlyphs">start</text>
<text x="639.3" y="86" font-size="21" fill="#000" text-anchor="start" textLength="12.8" lengthAdjust="spacingAndGlyphs" >=</text>
<text x="656.4" y="86" font-size="21" fill="#000" text-anchor="start" textLength="21.6" lengthAdjust="spacingAndGlyphs" >15</text>
<text x="315.8" y="619.7" font-size="24.5" fill="#000" text-anchor="start" textLength="35.2" lengthAdjust="spacingAndGlyphs" >log</text>
<text x="365.7" y="619.7" font-size="24.5" fill="#000" text-anchor="start" textLength="17.2" lengthAdjust="spacingAndGlyphs" >M</text>
<text x="398" y="619.7" font-size="24.5" fill="#000" text-anchor="start" textLength="7" lengthAdjust="spacingAndGlyphs" >(</text>
<text x="406.7" y="619.7" font-size="24.5" fill="#000" text-anchor="start" textLength="17.9" lengthAdjust="spacingAndGlyphs" >M</text>
<text x="442.3" y="619.7" font-size="24.5" fill="#000" text-anchor="start" textLength="7.4" lengthAdjust="spacingAndGlyphs" >)</text>
<circle cx="433.5" cy="622.4" r="5.3" fill="none" stroke="#000" stroke-width="1.1"/><circle cx="433.5" cy="622.4" r="1.3" fill="#000"/>
<text x="105.6" y="309.0" font-size="25" fill="#8b1a1a" text-anchor="start" textLength="69.4" lengthAdjust="spacingAndGlyphs" >z=0.3</text>
<text x="105.6" y="336.55" font-size="25" fill="#ff0000" text-anchor="start" textLength="69.4" lengthAdjust="spacingAndGlyphs" >z=0.6</text>
<text x="105.6" y="364.1" font-size="25" fill="#ff8000" text-anchor="start" textLength="69.4" lengthAdjust="spacingAndGlyphs" >z=0.9</text>
<text x="105.6" y="391.65" font-size="25" fill="#1a5c1a" text-anchor="start" textLength="69.4" lengthAdjust="spacingAndGlyphs" >z=1.1</text>
<text x="105.6" y="419.2" font-size="25" fill="#00ff00" text-anchor="start" textLength="69.4" lengthAdjust="spacingAndGlyphs" >z=1.4</text>
<text x="105.6" y="446.75" font-size="25" fill="#00ffff" text-anchor="start" textLength="69.4" lengthAdjust="spacingAndGlyphs" >z=2.2</text>
<text x="197.5" y="309.0" font-size="25" fill="#0000ff" text-anchor="start" textLength="71.2" lengthAdjust="spacingAndGlyphs" >z=2.7</text>
<text x="197.5" y="336.55" font-size="25" fill="#191970" text-anchor="start" textLength="71.2" lengthAdjust="spacingAndGlyphs" >z=4.0</text>
<text x="197.5" y="364.1" font-size="25" fill="#ff00ff" text-anchor="start" textLength="71.2" lengthAdjust="spacingAndGlyphs" >z=4.8</text>
<text x="197.5" y="391.65" font-size="25" fill="#8b1a8b" text-anchor="start" textLength="71.2" lengthAdjust="spacingAndGlyphs" >z=6.0</text>
<text x="197.5" y="419.2" font-size="25" fill="#404040" text-anchor="start" textLength="71.2" lengthAdjust="spacingAndGlyphs" >z=7.0</text>
<text x="197.5" y="446.75" font-size="25" fill="#707070" text-anchor="start" textLength="71.2" lengthAdjust="spacingAndGlyphs" >z=8.0</text>
<text x="290.3" y="309.0" font-size="25" fill="#a0a0a0" text-anchor="start" textLength="71" lengthAdjust="spacingAndGlyphs" >z=9.0</text>
<text x="290.3" y="336.55" font-size="25" fill="#c4c4c4" text-anchor="start" textLength="85.4" lengthAdjust="spacingAndGlyphs" >z=10.0</text>
<g transform="translate(28.4,429) rotate(-90)">
<text x="0" y="0" font-size="25.5" fill="#000" text-anchor="start" textLength="36" lengthAdjust="spacingAndGlyphs" >log</text>
<text x="51" y="0" font-size="25.5" fill="#000" text-anchor="start" textLength="17" lengthAdjust="spacingAndGlyphs" font-style="italic">ϕ</text>
<text x="80" y="0" font-size="25.5" fill="#000" text-anchor="start" textLength="8" lengthAdjust="spacingAndGlyphs" >(</text>
<text x="90" y="0" font-size="25.5" fill="#000" text-anchor="start" textLength="36" lengthAdjust="spacingAndGlyphs" >gal</text>
<text x="140" y="0" font-size="25.5" fill="#000" text-anchor="start" textLength="43" lengthAdjust="spacingAndGlyphs" >Mpc</text>
<text x="190" y="-12.5" font-size="19.5" fill="#000" text-anchor="start" textLength="23" lengthAdjust="spacingAndGlyphs" >−3</text>
<text x="228" y="0" font-size="25.5" fill="#000" text-anchor="start" textLength="42.5" lengthAdjust="spacingAndGlyphs" >dex</text>
<text x="273.4" y="-12.8" font-size="19.5" fill="#000" text-anchor="start" textLength="21" lengthAdjust="spacingAndGlyphs" >−1</text>
<text x="299" y="0" font-size="25.5" fill="#000" text-anchor="start" textLength="7.6" lengthAdjust="spacingAndGlyphs" >)</text>
</g>
</svg></body></html>
